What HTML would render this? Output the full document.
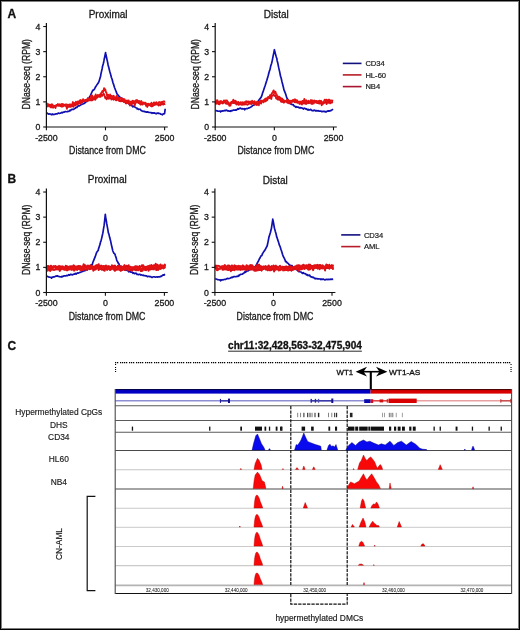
<!DOCTYPE html>
<html><head><meta charset="utf-8"><style>
html,body{margin:0;padding:0;background:#fff;}
body{width:520px;height:630px;overflow:hidden;}
svg{display:block;font-family:"Liberation Sans", sans-serif;will-change:transform;}


</style></head><body>
<svg width="520" height="630" viewBox="0 0 520 630">
<rect x="0" y="0" width="520" height="630" fill="#fff"/>
<path d="M46.50,112.75 L47.30,113.36 L48.10,113.70 L48.90,114.15 L49.00,114.01 L49.70,113.93 L50.50,113.99 L51.30,114.76 L52.10,113.99 L52.90,114.64 L53.70,114.31 L54.50,114.42 L55.30,114.05 L56.10,113.87 L56.90,114.02 L57.70,113.44 L58.50,113.08 L59.30,113.47 L60.10,113.24 L60.50,113.24 L60.90,112.96 L61.70,112.44 L62.50,112.80 L63.30,112.19 L64.10,112.18 L64.90,111.65 L65.70,111.61 L66.50,111.75 L67.30,111.64 L68.10,111.29 L68.90,111.45 L69.40,110.98 L69.70,110.29 L70.50,110.67 L71.30,109.57 L72.10,109.36 L72.90,109.37 L73.70,109.30 L73.80,109.25 L74.50,108.54 L75.30,108.16 L76.10,107.15 L76.90,107.63 L77.70,106.34 L78.30,105.96 L78.50,105.85 L79.30,105.87 L80.10,105.25 L80.90,104.89 L81.70,104.38 L82.50,104.03 L83.30,103.83 L84.10,103.41 L84.60,103.23 L84.90,102.69 L85.70,102.25 L86.50,101.18 L87.30,100.59 L88.10,99.39 L88.90,98.37 L89.70,96.69 L90.50,95.38 L91.30,93.52 L92.10,91.64 L92.20,91.49 L92.90,90.18 L93.70,90.10 L94.50,89.07 L95.30,87.22 L95.60,86.93 L96.10,86.14 L96.90,84.85 L97.70,83.83 L98.50,82.46 L98.90,81.78 L99.30,80.54 L100.10,77.86 L100.60,76.25 L100.90,74.19 L101.70,70.56 L102.20,68.46 L102.50,66.42 L103.30,63.70 L103.90,60.95 L104.10,59.70 L104.90,55.99 L105.60,52.51 L105.70,53.46 L106.50,57.29 L107.20,60.66 L107.30,60.63 L108.10,64.98 L108.90,68.07 L109.70,71.31 L110.50,73.89 L111.10,76.19 L111.30,77.27 L112.10,79.21 L112.90,82.43 L113.30,83.62 L113.70,84.84 L114.50,87.48 L115.30,89.50 L115.60,90.26 L116.10,91.39 L116.90,93.73 L117.70,94.76 L117.80,94.81 L118.50,95.92 L119.30,96.25 L120.00,97.40 L120.10,97.70 L120.90,97.96 L121.70,98.35 L122.50,98.30 L123.30,99.74 L124.10,99.95 L124.90,100.79 L125.60,101.38 L125.70,100.67 L126.50,101.76 L127.30,102.03 L128.10,103.25 L128.90,103.65 L129.70,104.65 L130.50,104.93 L130.70,105.09 L131.30,105.28 L132.10,105.93 L132.90,106.83 L133.70,106.17 L134.50,106.73 L135.30,107.49 L136.10,107.78 L136.90,108.02 L137.00,108.90 L137.70,108.56 L138.50,109.47 L139.30,109.22 L140.10,109.13 L140.90,110.29 L141.70,110.87 L142.50,111.00 L143.30,111.51 L144.10,111.24 L144.60,111.31 L144.90,111.88 L145.70,111.72 L146.50,112.16 L147.30,111.92 L148.10,112.13 L148.90,112.45 L149.70,112.48 L150.50,112.62 L151.30,112.59 L152.10,113.26 L152.30,112.90 L152.90,112.80 L153.70,113.12 L154.50,112.85 L155.30,113.36 L156.10,113.77 L156.90,113.39 L157.70,113.19 L158.50,113.21 L158.60,113.52 L159.30,113.46 L160.10,113.64 L160.90,114.23 L161.70,114.23 L162.40,114.73 L162.50,114.55 L163.30,113.90 L164.10,113.86 L164.60,113.48 L164.90,111.03 L165.20,108.76" fill="none" stroke="#1010b0" stroke-width="1.7" stroke-linejoin="round"/>
<path d="M46.50,104.26 L47.10,105.79 L47.70,106.48 L48.30,105.36 L48.90,104.83 L49.50,106.07 L50.10,106.69 L50.70,107.39 L51.30,105.58 L51.60,105.60 L51.90,107.24 L52.50,106.93 L53.10,107.71 L53.70,107.12 L54.30,106.08 L54.90,105.82 L55.50,108.12 L56.10,105.57 L56.70,105.03 L57.30,104.73 L57.90,105.78 L58.50,105.82 L59.10,105.41 L59.70,105.65 L60.30,105.93 L60.90,106.29 L61.50,106.63 L62.10,105.88 L62.70,104.18 L63.00,106.30 L63.30,104.52 L63.90,105.65 L64.50,104.60 L65.10,105.92 L65.70,105.32 L66.30,106.22 L66.90,108.91 L67.50,106.13 L68.10,106.95 L68.70,105.17 L69.30,106.11 L69.90,106.98 L70.50,106.40 L70.70,106.81 L71.10,106.41 L71.70,105.20 L72.30,106.28 L72.90,104.84 L73.50,106.86 L74.10,104.57 L74.70,105.32 L75.30,104.48 L75.70,105.11 L75.90,103.70 L76.50,104.81 L77.10,103.61 L77.70,104.54 L78.30,103.74 L78.90,103.08 L79.50,102.05 L80.00,103.15 L80.10,102.87 L80.70,103.67 L81.30,101.75 L81.90,102.35 L82.50,102.11 L83.10,101.72 L83.70,101.46 L84.30,101.24 L84.90,100.38 L85.50,99.83 L86.10,100.16 L86.70,100.80 L87.30,101.42 L87.90,100.80 L88.50,100.70 L89.10,100.31 L89.70,100.08 L90.30,99.47 L90.90,99.81 L91.10,100.61 L91.50,98.70 L92.10,98.21 L92.70,100.28 L93.30,98.64 L93.90,99.08 L94.40,98.84 L94.50,97.10 L95.10,99.92 L95.70,99.15 L96.30,97.58 L96.90,97.86 L97.50,97.11 L97.80,96.15 L98.10,96.61 L98.70,96.63 L99.30,96.86 L99.90,96.12 L100.50,95.18 L101.00,95.95 L101.10,94.16 L101.70,95.52 L102.30,95.82 L102.90,94.66 L103.50,93.43 L104.10,94.21 L104.40,95.20 L104.70,96.06 L105.30,98.16 L105.90,97.22 L106.50,99.30 L107.10,98.81 L107.70,97.09 L108.00,94.69 L108.30,97.45 L108.90,98.85 L109.50,97.85 L110.00,96.32 L110.10,96.78 L110.70,97.50 L111.30,99.61 L111.90,98.20 L112.50,97.95 L113.10,99.36 L113.30,98.03 L113.70,99.84 L114.30,97.91 L114.90,98.32 L115.50,99.58 L116.10,100.41 L116.70,99.99 L117.30,99.93 L117.90,98.36 L118.50,99.54 L118.90,99.78 L119.10,99.89 L119.70,100.97 L120.30,100.32 L120.90,101.41 L121.50,100.94 L122.10,100.72 L122.70,101.23 L123.30,101.62 L123.90,102.12 L124.40,101.09 L124.50,101.34 L125.10,100.62 L125.70,103.37 L126.30,103.48 L126.90,102.33 L127.50,102.31 L128.10,101.90 L128.70,103.33 L129.30,103.60 L129.90,105.52 L130.00,103.91 L130.50,102.92 L131.10,101.37 L131.70,104.51 L132.30,103.34 L132.90,101.67 L133.50,103.05 L134.10,101.40 L134.70,105.58 L135.30,103.44 L135.90,102.84 L136.50,102.07 L137.00,100.28 L137.10,102.02 L137.70,101.00 L138.30,103.02 L138.90,100.89 L139.50,102.13 L140.10,104.13 L140.70,104.68 L141.30,102.47 L141.90,102.36 L142.00,104.45 L142.50,104.57 L143.10,103.17 L143.70,103.59 L144.30,103.76 L144.90,103.50 L145.50,104.11 L146.10,105.92 L146.70,105.61 L147.30,106.94 L147.90,105.29 L148.40,105.38 L148.50,104.66 L149.10,105.33 L149.70,104.26 L150.30,103.81 L150.90,105.86 L151.50,106.43 L152.10,105.86 L152.70,106.23 L153.30,105.26 L153.90,104.37 L154.50,105.00 L154.80,104.58 L155.10,103.92 L155.70,103.36 L156.30,103.46 L156.90,104.65 L157.50,104.71 L158.10,104.11 L158.70,105.66 L159.30,104.52 L159.90,104.80 L160.50,105.20 L161.10,103.33 L161.70,102.22 L162.30,104.40 L162.90,103.04 L163.50,104.60 L164.10,103.64 L164.70,104.07 L165.20,103.75" fill="none" stroke="#d81018" stroke-width="1.8" stroke-linejoin="round"/>
<path d="M46.50,102.77 L47.10,104.36 L47.70,104.09 L48.30,104.09 L48.90,105.48 L49.50,104.88 L50.10,104.75 L50.70,106.69 L51.30,104.90 L51.60,104.33 L51.90,104.17 L52.50,104.78 L53.10,105.67 L53.70,105.71 L54.30,105.84 L54.90,106.33 L55.50,106.10 L56.10,105.09 L56.70,105.56 L57.30,104.99 L57.90,103.95 L58.50,105.14 L59.10,104.49 L59.70,104.26 L60.30,106.15 L60.90,105.10 L61.50,104.03 L62.10,104.38 L62.70,106.45 L63.00,104.23 L63.30,105.11 L63.90,105.07 L64.50,105.04 L65.10,105.17 L65.70,104.31 L66.30,104.39 L66.90,104.71 L67.50,104.61 L68.10,105.67 L68.70,106.37 L69.30,104.34 L69.90,105.64 L70.50,104.38 L70.70,104.65 L71.10,104.87 L71.70,104.90 L72.30,104.17 L72.90,102.03 L73.50,105.21 L74.10,103.52 L74.70,102.94 L75.30,103.81 L75.70,102.53 L75.90,101.73 L76.50,103.13 L77.10,102.82 L77.70,101.50 L78.30,102.68 L78.90,102.03 L79.50,100.48 L80.00,102.76 L80.10,101.45 L80.70,100.04 L81.30,101.21 L81.90,100.73 L82.50,101.26 L83.10,99.07 L83.70,100.93 L84.30,100.65 L84.90,100.24 L85.50,99.97 L86.10,100.38 L86.70,99.67 L87.30,98.99 L87.90,98.00 L88.50,99.51 L89.10,99.24 L89.70,98.48 L90.30,98.20 L90.90,98.52 L91.10,95.68 L91.50,98.00 L92.10,95.39 L92.70,97.57 L93.30,98.09 L93.90,98.63 L94.40,96.44 L94.50,97.18 L95.10,96.54 L95.70,94.47 L96.30,96.80 L96.90,95.95 L97.50,95.81 L97.80,94.83 L98.10,95.41 L98.70,95.12 L99.30,95.76 L99.90,94.52 L100.50,96.88 L101.00,93.19 L101.10,93.17 L101.70,92.51 L102.30,91.01 L102.90,92.16 L103.50,90.57 L104.10,88.07 L104.40,88.83 L104.70,90.35 L105.30,89.36 L105.90,91.94 L106.50,92.84 L107.10,96.01 L107.70,95.32 L108.00,95.09 L108.30,95.02 L108.90,97.25 L109.50,95.34 L110.00,97.81 L110.10,94.52 L110.70,95.89 L111.30,96.03 L111.90,95.81 L112.50,96.42 L113.10,97.38 L113.30,96.27 L113.70,95.76 L114.30,98.39 L114.90,98.73 L115.50,97.11 L116.10,98.20 L116.70,95.96 L117.30,99.31 L117.90,97.50 L118.50,98.41 L118.90,100.90 L119.10,98.00 L119.70,99.23 L120.30,98.42 L120.90,97.88 L121.50,98.60 L122.10,99.97 L122.70,98.74 L123.30,99.49 L123.90,100.76 L124.40,100.10 L124.50,99.15 L125.10,101.80 L125.70,100.85 L126.30,102.20 L126.90,100.32 L127.50,102.91 L128.10,100.53 L128.70,100.43 L129.30,101.80 L129.90,102.08 L130.00,102.67 L130.50,101.84 L131.10,102.73 L131.70,103.20 L132.30,101.35 L132.90,100.59 L133.50,101.29 L134.10,102.21 L134.70,102.07 L135.30,100.93 L135.90,100.24 L136.50,100.94 L137.00,101.67 L137.10,100.26 L137.70,102.18 L138.30,101.45 L138.90,101.70 L139.50,101.10 L140.10,103.00 L140.70,102.06 L141.30,100.93 L141.90,103.11 L142.00,102.08 L142.50,103.51 L143.10,102.89 L143.70,102.38 L144.30,103.23 L144.90,102.83 L145.50,102.71 L146.10,103.61 L146.70,104.48 L147.30,103.99 L147.90,104.02 L148.40,103.76 L148.50,104.72 L149.10,104.41 L149.70,104.94 L150.30,104.37 L150.90,105.84 L151.50,102.59 L152.10,103.84 L152.70,104.29 L153.30,104.55 L153.90,102.40 L154.50,102.61 L154.80,103.60 L155.10,104.51 L155.70,104.48 L156.30,102.15 L156.90,103.50 L157.50,104.33 L158.10,103.27 L158.70,102.29 L159.30,102.49 L159.90,101.89 L160.50,103.93 L161.10,102.54 L161.70,102.26 L162.30,101.74 L162.90,102.24 L163.50,101.44 L164.10,101.24 L164.70,101.91 L165.20,101.64" fill="none" stroke="#e41212" stroke-width="1.8" stroke-linejoin="round"/>
<path d="M46.4,23.0 V127.0 H167.8" fill="none" stroke="#111" stroke-width="1.2"/>
<path d="M43.199999999999996,127.00 H46.4" stroke="#111" stroke-width="1.1"/>
<text x="40.4" y="130.10" font-size="8.7" font-weight="normal" text-anchor="end" fill="#1a1a1a" stroke="#1a1a1a" stroke-width="0.3" >0</text>
<path d="M43.199999999999996,101.88 H46.4" stroke="#111" stroke-width="1.1"/>
<text x="40.4" y="104.98" font-size="8.7" font-weight="normal" text-anchor="end" fill="#1a1a1a" stroke="#1a1a1a" stroke-width="0.3" >1</text>
<path d="M43.199999999999996,76.76 H46.4" stroke="#111" stroke-width="1.1"/>
<text x="40.4" y="79.86" font-size="8.7" font-weight="normal" text-anchor="end" fill="#1a1a1a" stroke="#1a1a1a" stroke-width="0.3" >2</text>
<path d="M43.199999999999996,51.64 H46.4" stroke="#111" stroke-width="1.1"/>
<text x="40.4" y="54.74" font-size="8.7" font-weight="normal" text-anchor="end" fill="#1a1a1a" stroke="#1a1a1a" stroke-width="0.3" >3</text>
<path d="M43.199999999999996,26.52 H46.4" stroke="#111" stroke-width="1.1"/>
<text x="40.4" y="29.62" font-size="8.7" font-weight="normal" text-anchor="end" fill="#1a1a1a" stroke="#1a1a1a" stroke-width="0.3" >4</text>
<path d="M46.40,127.0 V130.3" stroke="#111" stroke-width="1.1"/>
<text x="46.40" y="140.8" font-size="8.8" font-weight="normal" text-anchor="middle" fill="#1a1a1a" stroke="#1a1a1a" stroke-width="0.3" >-2500</text>
<path d="M105.50,127.0 V130.3" stroke="#111" stroke-width="1.1"/>
<text x="105.50" y="140.8" font-size="8.8" font-weight="normal" text-anchor="middle" fill="#1a1a1a" stroke="#1a1a1a" stroke-width="0.3" >0</text>
<path d="M164.60,127.0 V130.3" stroke="#111" stroke-width="1.1"/>
<text x="164.60" y="140.8" font-size="8.8" font-weight="normal" text-anchor="middle" fill="#1a1a1a" stroke="#1a1a1a" stroke-width="0.3" >2500</text>
<text x="69.1" y="154.4" font-size="10.4" font-weight="normal" text-anchor="start" fill="#1a1a1a" stroke="#1a1a1a" stroke-width="0.3" textLength="76.8" lengthAdjust="spacingAndGlyphs" >Distance from DMC</text>
<text x="0" y="0" font-size="10" fill="#1a1a1a" stroke="#1a1a1a" stroke-width="0.3" textLength="70.4" lengthAdjust="spacingAndGlyphs" transform="translate(29.9,109.4) rotate(-90)">DNase-seq (RPM)</text>
<text x="88.7" y="17.8" font-size="10" font-weight="normal" text-anchor="start" fill="#1a1a1a" stroke="#1a1a1a" stroke-width="0.3" >Proximal</text>
<path d="M215.50,110.25 L216.30,110.71 L217.10,110.90 L217.90,111.20 L218.70,111.23 L219.50,111.21 L220.30,111.31 L220.60,111.99 L221.10,110.93 L221.90,111.21 L222.70,110.87 L223.50,110.98 L224.30,110.61 L225.10,110.43 L225.70,110.62 L225.90,110.27 L226.70,110.19 L227.50,110.89 L228.30,110.94 L229.10,111.14 L229.90,111.04 L230.70,110.78 L230.80,111.32 L231.50,110.72 L232.30,110.70 L233.10,110.15 L233.90,110.09 L234.70,110.21 L235.50,110.08 L235.90,109.81 L236.30,110.04 L237.10,109.47 L237.90,108.70 L238.70,109.21 L239.50,108.26 L240.30,108.18 L240.90,108.38 L241.10,108.68 L241.90,108.80 L242.70,108.71 L243.50,109.01 L244.30,108.67 L244.70,109.77 L245.10,108.91 L245.90,108.72 L246.70,108.47 L247.50,108.62 L248.30,108.13 L249.10,107.90 L249.90,107.52 L250.00,107.49 L250.70,107.15 L251.50,106.51 L252.30,105.98 L253.10,105.22 L253.90,105.11 L254.70,104.38 L255.50,104.13 L256.30,103.27 L256.70,102.87 L257.10,102.32 L257.90,101.70 L258.70,100.51 L259.50,99.31 L260.30,98.43 L260.60,97.70 L261.10,97.41 L261.90,95.41 L262.70,92.59 L263.00,91.93 L263.50,90.40 L264.30,87.93 L265.10,85.72 L265.90,83.16 L266.40,81.58 L266.70,80.66 L267.50,77.95 L268.30,75.32 L269.10,72.05 L269.90,69.65 L270.00,69.66 L270.70,66.09 L271.50,63.69 L272.30,60.35 L273.10,56.16 L273.90,52.33 L274.40,49.71 L274.70,51.29 L275.50,54.12 L276.30,57.00 L276.90,58.78 L277.10,60.43 L277.90,63.58 L278.70,67.67 L279.50,71.10 L280.30,74.97 L280.50,76.26 L281.10,77.80 L281.90,81.43 L282.70,84.45 L283.50,87.74 L284.00,90.08 L284.30,90.56 L285.10,92.56 L285.90,94.78 L286.70,97.63 L287.50,99.16 L288.30,100.07 L289.10,101.49 L289.90,102.01 L290.70,103.47 L291.10,104.23 L291.50,104.24 L292.30,104.60 L293.10,104.52 L293.90,105.94 L294.70,106.13 L295.50,106.95 L295.80,107.28 L296.30,106.60 L297.10,107.19 L297.90,106.96 L298.70,107.69 L299.50,107.59 L300.00,108.01 L300.30,107.68 L301.10,107.85 L301.90,107.93 L302.70,108.36 L303.50,109.05 L304.30,108.17 L305.10,108.51 L305.90,109.05 L306.30,109.04 L306.70,108.94 L307.50,109.91 L308.30,109.41 L309.10,110.13 L309.90,109.68 L310.70,109.39 L311.50,110.35 L312.30,110.74 L312.60,110.59 L313.10,110.80 L313.90,110.27 L314.70,110.21 L315.50,110.81 L316.30,110.60 L317.10,110.99 L317.90,110.70 L318.70,110.86 L319.00,111.08 L319.50,111.04 L320.30,111.14 L321.10,111.08 L321.90,111.71 L322.70,111.41 L323.50,111.33 L324.30,111.65 L325.10,111.38 L325.30,111.83 L325.90,112.06 L326.70,111.49 L327.50,111.08 L328.30,110.91 L329.10,111.10 L329.90,110.75 L330.40,110.65 L330.70,110.80 L331.50,110.01 L332.30,109.74 L333.00,109.12" fill="none" stroke="#1010b0" stroke-width="1.7" stroke-linejoin="round"/>
<path d="M215.50,102.23 L216.10,103.84 L216.70,102.14 L217.30,101.54 L217.90,103.55 L218.50,104.13 L219.10,104.18 L219.30,104.38 L219.70,103.70 L220.30,103.07 L220.90,102.71 L221.50,102.95 L222.10,102.59 L222.70,103.48 L223.30,102.99 L223.90,101.16 L224.50,102.61 L225.10,101.76 L225.70,103.12 L226.30,103.83 L226.90,103.41 L227.50,101.79 L228.10,104.26 L228.70,102.74 L229.30,105.81 L229.50,104.03 L229.90,104.20 L230.50,105.58 L231.10,102.15 L231.70,103.34 L232.30,102.05 L232.90,102.18 L233.30,101.71 L233.50,103.04 L234.10,102.39 L234.70,103.13 L235.30,103.57 L235.90,101.74 L236.50,104.60 L237.10,103.38 L237.70,102.35 L238.30,103.40 L238.40,104.75 L238.90,104.86 L239.50,103.40 L240.10,104.08 L240.70,104.20 L241.30,104.89 L241.90,103.88 L242.50,104.84 L243.10,103.23 L243.50,103.37 L243.70,104.56 L244.30,104.57 L244.90,103.87 L245.50,104.40 L246.10,104.02 L246.70,104.47 L247.30,104.77 L247.90,104.18 L248.50,104.40 L249.10,103.31 L249.70,103.13 L250.00,101.56 L250.30,103.95 L250.90,103.63 L251.50,104.06 L252.10,101.98 L252.70,103.18 L253.30,103.12 L253.90,102.04 L254.50,104.39 L255.10,104.66 L255.70,102.50 L256.30,103.98 L256.90,105.09 L257.50,102.55 L258.10,104.46 L258.70,104.98 L258.90,105.22 L259.30,102.23 L259.90,102.20 L260.50,103.02 L261.10,103.59 L261.70,101.17 L262.30,101.32 L262.90,100.72 L263.50,102.36 L264.10,100.63 L264.70,101.33 L265.30,101.10 L265.60,101.41 L265.90,100.53 L266.50,100.00 L267.10,100.25 L267.70,99.19 L268.30,97.21 L268.90,97.38 L269.50,98.17 L270.00,97.12 L270.10,96.62 L270.70,96.73 L271.30,98.99 L271.90,95.64 L272.50,95.69 L273.10,95.25 L273.70,94.20 L273.90,95.34 L274.30,95.60 L274.90,96.03 L275.50,95.34 L276.10,98.44 L276.70,98.84 L277.30,98.94 L277.80,97.35 L277.90,99.68 L278.50,98.86 L279.10,99.90 L279.70,99.84 L280.30,99.75 L280.90,101.54 L281.50,100.94 L282.10,102.11 L282.70,100.37 L283.30,101.23 L283.90,102.72 L284.50,101.94 L285.10,101.15 L285.70,101.14 L286.30,101.52 L286.90,102.10 L287.50,102.90 L288.10,102.55 L288.70,103.21 L288.90,103.33 L289.30,102.63 L289.90,103.54 L290.50,102.95 L291.10,102.04 L291.70,101.95 L292.30,101.96 L292.90,101.23 L293.50,100.59 L294.10,101.69 L294.40,101.15 L294.70,102.21 L295.30,101.37 L295.90,102.17 L296.50,102.45 L297.10,102.05 L297.70,102.83 L298.30,102.22 L298.90,102.67 L299.50,103.94 L300.00,103.74 L300.10,103.37 L300.70,102.52 L301.30,103.65 L301.90,104.62 L302.50,100.82 L303.10,103.47 L303.70,102.58 L304.30,103.40 L304.90,103.51 L305.50,101.65 L306.10,104.10 L306.70,102.11 L307.30,102.46 L307.90,103.27 L308.50,102.69 L309.10,103.05 L309.70,102.41 L310.10,101.99 L310.30,102.89 L310.90,101.88 L311.50,103.95 L312.10,102.95 L312.70,103.91 L313.30,101.55 L313.90,100.78 L314.50,100.55 L315.10,102.16 L315.70,101.32 L316.30,102.71 L316.40,101.12 L316.90,101.28 L317.50,102.84 L318.10,102.37 L318.70,103.41 L319.30,103.64 L319.90,103.36 L320.50,102.10 L321.10,102.52 L321.70,105.36 L322.30,103.30 L322.80,103.85 L322.90,103.68 L323.50,103.40 L324.10,103.14 L324.70,102.65 L325.30,102.55 L325.90,101.10 L326.50,104.18 L327.10,102.48 L327.70,101.29 L327.90,102.84 L328.30,102.92 L328.90,100.99 L329.50,101.72 L330.10,103.39 L330.70,102.48 L331.30,102.30 L331.90,102.71 L332.50,101.65 L333.00,101.43" fill="none" stroke="#d81018" stroke-width="1.8" stroke-linejoin="round"/>
<path d="M215.50,102.04 L216.10,102.08 L216.70,100.34 L217.30,100.11 L217.90,101.92 L218.50,102.91 L219.10,102.39 L219.30,101.36 L219.70,102.03 L220.30,103.44 L220.90,100.82 L221.50,102.66 L222.10,101.98 L222.70,101.72 L223.30,101.73 L223.90,100.39 L224.50,100.53 L225.10,101.93 L225.70,100.45 L226.30,100.81 L226.90,100.35 L227.50,101.53 L228.10,102.94 L228.70,103.75 L229.30,103.62 L229.50,103.74 L229.90,103.47 L230.50,102.91 L231.10,103.13 L231.70,101.81 L232.30,102.49 L232.90,101.18 L233.30,99.65 L233.50,99.98 L234.10,101.09 L234.70,101.06 L235.30,100.61 L235.90,101.18 L236.50,102.16 L237.10,102.54 L237.70,103.10 L238.30,101.85 L238.40,102.92 L238.90,103.48 L239.50,102.90 L240.10,104.09 L240.70,102.20 L241.30,102.60 L241.90,102.75 L242.50,102.27 L243.10,102.56 L243.50,102.80 L243.70,102.56 L244.30,102.13 L244.90,102.14 L245.50,102.42 L246.10,101.16 L246.70,102.56 L247.30,101.45 L247.90,102.13 L248.50,101.39 L249.10,102.34 L249.70,101.91 L250.00,101.99 L250.30,101.58 L250.90,102.30 L251.50,103.53 L252.10,100.70 L252.70,102.63 L253.30,102.39 L253.90,101.88 L254.50,101.14 L255.10,103.52 L255.70,102.36 L256.30,103.04 L256.90,101.89 L257.50,101.57 L258.10,103.10 L258.70,102.82 L258.90,101.95 L259.30,101.83 L259.90,102.24 L260.50,100.77 L261.10,100.46 L261.70,100.83 L262.30,101.42 L262.90,101.01 L263.50,100.16 L264.10,100.84 L264.70,99.31 L265.30,98.74 L265.60,100.95 L265.90,98.36 L266.50,98.81 L267.10,98.31 L267.70,97.48 L268.30,97.11 L268.90,97.03 L269.50,96.45 L270.00,95.12 L270.10,95.50 L270.70,95.97 L271.30,94.75 L271.90,93.11 L272.50,92.84 L273.10,91.29 L273.70,90.36 L273.90,90.77 L274.30,93.09 L274.90,92.08 L275.50,91.79 L276.10,94.16 L276.70,94.52 L277.30,96.53 L277.80,97.63 L277.90,96.40 L278.50,97.14 L279.10,96.67 L279.70,98.78 L280.30,97.55 L280.90,98.55 L281.50,100.87 L282.10,98.50 L282.70,99.78 L283.30,99.97 L283.90,100.52 L284.50,100.66 L285.10,101.63 L285.70,100.93 L286.30,101.15 L286.90,99.76 L287.50,101.25 L288.10,99.94 L288.70,102.17 L288.90,101.17 L289.30,101.94 L289.90,100.62 L290.50,101.11 L291.10,100.88 L291.70,101.16 L292.30,100.51 L292.90,100.00 L293.50,100.07 L294.10,99.73 L294.40,99.45 L294.70,99.31 L295.30,99.29 L295.90,102.26 L296.50,100.28 L297.10,100.16 L297.70,102.09 L298.30,101.70 L298.90,101.55 L299.50,102.79 L300.00,103.55 L300.10,101.28 L300.70,103.00 L301.30,102.14 L301.90,102.46 L302.50,100.90 L303.10,102.56 L303.70,101.97 L304.30,98.91 L304.90,102.16 L305.50,102.27 L306.10,100.05 L306.70,101.52 L307.30,101.15 L307.90,101.53 L308.50,100.68 L309.10,101.97 L309.70,102.09 L310.10,101.43 L310.30,101.44 L310.90,100.02 L311.50,101.85 L312.10,100.30 L312.70,101.32 L313.30,100.60 L313.90,103.37 L314.50,101.17 L315.10,102.39 L315.70,101.04 L316.30,100.99 L316.40,101.62 L316.90,101.08 L317.50,103.15 L318.10,101.18 L318.70,102.79 L319.30,100.57 L319.90,100.92 L320.50,102.32 L321.10,100.75 L321.70,103.64 L322.30,102.56 L322.80,102.28 L322.90,103.66 L323.50,101.62 L324.10,101.29 L324.70,99.61 L325.30,100.02 L325.90,101.23 L326.50,99.62 L327.10,101.83 L327.70,101.87 L327.90,101.39 L328.30,99.61 L328.90,100.16 L329.50,99.65 L330.10,101.30 L330.70,101.48 L331.30,100.36 L331.90,100.52 L332.50,100.57 L333.00,100.92" fill="none" stroke="#e41212" stroke-width="1.8" stroke-linejoin="round"/>
<path d="M215.2,23.0 V127.0 H336.79999999999995" fill="none" stroke="#111" stroke-width="1.2"/>
<path d="M212.0,127.00 H215.2" stroke="#111" stroke-width="1.1"/>
<text x="209.2" y="130.10" font-size="8.7" font-weight="normal" text-anchor="end" fill="#1a1a1a" stroke="#1a1a1a" stroke-width="0.3" >0</text>
<path d="M212.0,101.88 H215.2" stroke="#111" stroke-width="1.1"/>
<text x="209.2" y="104.98" font-size="8.7" font-weight="normal" text-anchor="end" fill="#1a1a1a" stroke="#1a1a1a" stroke-width="0.3" >1</text>
<path d="M212.0,76.76 H215.2" stroke="#111" stroke-width="1.1"/>
<text x="209.2" y="79.86" font-size="8.7" font-weight="normal" text-anchor="end" fill="#1a1a1a" stroke="#1a1a1a" stroke-width="0.3" >2</text>
<path d="M212.0,51.64 H215.2" stroke="#111" stroke-width="1.1"/>
<text x="209.2" y="54.74" font-size="8.7" font-weight="normal" text-anchor="end" fill="#1a1a1a" stroke="#1a1a1a" stroke-width="0.3" >3</text>
<path d="M212.0,26.52 H215.2" stroke="#111" stroke-width="1.1"/>
<text x="209.2" y="29.62" font-size="8.7" font-weight="normal" text-anchor="end" fill="#1a1a1a" stroke="#1a1a1a" stroke-width="0.3" >4</text>
<path d="M215.20,127.0 V130.3" stroke="#111" stroke-width="1.1"/>
<text x="215.20" y="140.8" font-size="8.8" font-weight="normal" text-anchor="middle" fill="#1a1a1a" stroke="#1a1a1a" stroke-width="0.3" >-2500</text>
<path d="M274.35,127.0 V130.3" stroke="#111" stroke-width="1.1"/>
<text x="274.35" y="140.8" font-size="8.8" font-weight="normal" text-anchor="middle" fill="#1a1a1a" stroke="#1a1a1a" stroke-width="0.3" >0</text>
<path d="M333.50,127.0 V130.3" stroke="#111" stroke-width="1.1"/>
<text x="333.50" y="140.8" font-size="8.8" font-weight="normal" text-anchor="middle" fill="#1a1a1a" stroke="#1a1a1a" stroke-width="0.3" >2500</text>
<text x="237.5" y="154.4" font-size="10.4" font-weight="normal" text-anchor="start" fill="#1a1a1a" stroke="#1a1a1a" stroke-width="0.3" textLength="76.8" lengthAdjust="spacingAndGlyphs" >Distance from DMC</text>
<text x="0" y="0" font-size="10" fill="#1a1a1a" stroke="#1a1a1a" stroke-width="0.3" textLength="70.4" lengthAdjust="spacingAndGlyphs" transform="translate(198.7,109.4) rotate(-90)">DNase-seq (RPM)</text>
<text x="263.8" y="17.9" font-size="10" font-weight="normal" text-anchor="start" fill="#1a1a1a" stroke="#1a1a1a" stroke-width="0.3" >Distal</text>
<path d="M46.50,275.85 L47.30,276.40 L48.10,276.69 L48.90,277.08 L49.70,277.21 L50.50,277.28 L51.30,277.47 L51.60,278.19 L52.10,277.07 L52.90,277.26 L53.70,276.83 L54.50,276.84 L55.30,276.37 L56.10,276.10 L56.70,276.22 L56.90,275.87 L57.70,275.81 L58.50,276.52 L59.30,276.59 L60.10,276.80 L60.90,276.73 L61.70,276.48 L61.80,277.02 L62.50,276.41 L63.30,276.37 L64.10,275.80 L64.90,275.73 L65.70,275.83 L66.50,275.69 L66.90,275.41 L67.30,275.70 L68.10,275.23 L68.90,274.58 L69.70,275.21 L70.50,274.36 L71.30,274.40 L71.90,274.68 L72.10,274.89 L72.90,274.63 L73.70,274.16 L74.50,274.08 L75.30,273.37 L76.10,274.15 L76.90,273.16 L77.00,273.16 L77.70,272.95 L78.50,273.12 L79.30,272.64 L80.10,272.43 L80.80,272.10 L80.90,272.05 L81.70,271.85 L82.50,271.43 L83.30,271.11 L84.10,270.56 L84.60,270.80 L84.90,270.48 L85.70,270.33 L86.50,269.58 L87.30,269.00 L88.10,268.46 L88.40,268.58 L88.90,267.81 L89.70,266.71 L90.50,265.93 L91.30,264.73 L92.10,264.88 L92.20,264.81 L92.90,262.27 L93.70,260.38 L94.40,258.68 L94.50,258.43 L95.30,256.41 L96.10,254.04 L96.70,252.28 L96.90,252.08 L97.70,250.94 L98.30,250.15 L98.50,248.88 L99.30,246.43 L100.10,244.06 L100.60,241.68 L100.90,241.37 L101.70,238.10 L102.50,234.56 L102.80,233.40 L103.30,230.03 L104.10,225.40 L104.20,224.59 L104.90,218.35 L105.30,214.38 L105.70,217.54 L106.50,221.85 L106.70,223.47 L107.30,226.55 L108.10,231.18 L108.30,232.66 L108.90,234.09 L109.70,237.57 L110.50,240.44 L110.60,240.87 L111.30,244.37 L112.10,247.69 L112.80,250.76 L112.90,251.04 L113.70,252.98 L114.50,253.61 L115.00,254.21 L115.30,255.54 L116.10,257.63 L116.70,260.00 L116.90,260.63 L117.70,262.00 L118.50,263.49 L118.90,263.73 L119.30,265.22 L120.10,266.01 L120.60,267.03 L120.90,267.37 L121.70,267.09 L122.50,268.00 L123.30,268.09 L124.10,269.14 L124.90,269.36 L125.60,270.11 L125.70,269.75 L126.50,270.10 L127.30,270.34 L128.10,270.94 L128.90,271.80 L129.70,271.09 L130.50,271.61 L130.70,272.05 L131.30,272.12 L132.10,272.20 L132.90,273.26 L133.70,272.87 L134.50,273.69 L135.30,273.34 L136.10,273.15 L136.90,274.21 L137.00,274.49 L137.70,274.43 L138.50,274.76 L139.30,274.31 L140.10,274.34 L140.90,275.03 L141.70,274.90 L142.50,275.38 L143.30,275.18 L143.40,275.29 L144.10,275.62 L144.90,275.70 L145.70,275.87 L146.50,275.88 L147.30,276.59 L148.10,276.37 L148.90,276.37 L149.70,276.77 L150.50,276.48 L151.30,276.98 L152.10,277.37 L152.90,276.98 L153.70,276.76 L154.50,276.77 L155.30,277.15 L156.10,276.98 L156.90,276.82 L157.70,277.07 L158.50,276.74 L159.30,276.93 L159.90,276.72 L160.10,276.47 L160.90,276.55 L161.70,276.08 L162.50,275.33 L163.30,274.76 L163.70,275.06 L164.10,275.07 L164.90,274.44 L165.20,274.37" fill="none" stroke="#1010b0" stroke-width="1.7" stroke-linejoin="round"/>
<path d="M46.50,267.12 L47.10,267.56 L47.70,265.90 L48.30,265.83 L48.90,266.82 L49.50,267.90 L50.10,266.86 L50.70,265.63 L51.30,265.94 L51.90,266.51 L52.50,267.31 L53.10,266.55 L53.70,266.28 L54.30,266.39 L54.90,266.71 L55.50,265.99 L56.10,266.58 L56.70,266.79 L57.30,267.87 L57.90,266.55 L58.50,267.35 L59.10,265.79 L59.70,267.28 L60.30,266.73 L60.90,266.19 L61.50,266.60 L62.10,267.33 L62.70,266.37 L63.30,267.43 L63.90,267.82 L64.50,267.91 L65.10,267.91 L65.70,265.64 L66.30,266.91 L66.90,266.11 L67.50,267.39 L68.10,266.71 L68.70,266.84 L69.30,267.03 L69.90,266.20 L70.50,266.75 L71.10,266.11 L71.70,268.31 L72.30,266.32 L72.90,266.70 L73.50,265.30 L74.10,265.53 L74.70,266.04 L75.30,267.33 L75.90,267.31 L76.50,266.93 L77.10,266.21 L77.70,268.17 L78.30,265.91 L78.90,266.05 L79.50,267.11 L80.00,265.95 L80.10,266.93 L80.70,267.47 L81.30,266.64 L81.90,266.99 L82.50,266.68 L83.10,266.11 L83.70,264.13 L84.30,265.64 L84.90,266.58 L85.50,265.27 L86.10,266.10 L86.70,266.69 L87.30,267.56 L87.90,265.42 L88.50,266.06 L89.10,266.63 L89.70,266.85 L90.30,265.33 L90.90,267.87 L91.50,265.74 L92.10,267.22 L92.70,266.19 L93.30,266.65 L93.90,267.63 L94.50,266.85 L95.10,266.38 L95.70,265.46 L96.30,265.72 L96.90,265.10 L97.50,267.80 L98.10,264.96 L98.70,264.13 L99.30,267.45 L99.90,267.14 L100.00,265.84 L100.50,266.81 L101.10,265.52 L101.70,265.74 L102.30,266.62 L102.90,266.56 L103.50,265.91 L104.10,267.58 L104.70,266.90 L105.30,266.45 L105.90,265.43 L106.50,266.50 L107.10,266.16 L107.70,266.37 L108.30,267.09 L108.90,266.03 L109.50,266.72 L110.10,267.16 L110.70,266.84 L111.30,268.40 L111.90,265.22 L112.50,266.58 L113.10,265.71 L113.70,266.62 L114.30,268.69 L114.90,265.42 L115.50,266.51 L116.10,267.29 L116.70,266.87 L117.30,267.54 L117.90,265.60 L118.50,267.64 L119.10,266.13 L119.70,265.94 L120.00,267.37 L120.30,267.30 L120.90,266.34 L121.50,266.27 L122.10,266.76 L122.70,266.91 L123.30,266.79 L123.90,266.12 L124.50,265.08 L125.10,267.96 L125.70,267.06 L126.30,265.93 L126.90,265.67 L127.50,266.37 L128.10,266.59 L128.70,265.23 L129.30,268.03 L129.90,267.26 L130.50,266.66 L131.10,267.19 L131.70,267.10 L132.30,267.76 L132.90,267.04 L133.50,267.92 L134.10,268.14 L134.70,266.67 L135.30,266.56 L135.90,266.21 L136.50,266.73 L137.10,266.34 L137.70,266.92 L138.30,267.16 L138.90,267.34 L139.50,265.99 L140.00,267.77 L140.10,266.66 L140.70,266.77 L141.30,266.40 L141.90,265.17 L142.50,266.91 L143.10,265.25 L143.70,267.50 L144.30,266.60 L144.90,267.76 L145.50,266.99 L146.10,266.98 L146.70,267.49 L147.30,266.29 L147.90,267.50 L148.50,266.13 L149.10,266.39 L149.70,265.60 L150.00,266.54 L150.30,266.63 L150.90,265.66 L151.50,265.00 L152.10,265.95 L152.70,266.28 L153.30,265.79 L153.90,265.10 L154.50,265.26 L155.10,265.59 L155.70,263.68 L156.30,265.26 L156.90,266.84 L157.50,264.64 L158.10,265.45 L158.70,266.93 L159.30,266.11 L159.90,266.25 L160.00,265.39 L160.50,264.43 L161.10,267.76 L161.70,265.68 L162.30,265.61 L162.90,266.70 L163.50,266.02 L164.10,265.40 L164.70,264.45 L165.20,265.18" fill="none" stroke="#d81018" stroke-width="1.9" stroke-linejoin="round"/>
<path d="M46.50,267.79 L47.10,270.38 L47.70,269.41 L48.30,268.65 L48.90,269.90 L49.50,268.30 L50.10,271.03 L50.70,269.65 L51.30,269.10 L51.90,269.82 L52.50,268.19 L53.10,269.63 L53.70,270.01 L54.30,270.01 L54.90,269.62 L55.50,268.32 L56.10,269.47 L56.70,268.08 L57.30,269.39 L57.90,268.72 L58.50,268.60 L59.10,269.87 L59.70,270.89 L60.30,270.49 L60.90,268.95 L61.50,268.92 L62.10,268.47 L62.70,268.79 L63.30,269.38 L63.90,269.64 L64.50,268.91 L65.10,269.29 L65.70,268.33 L66.30,268.85 L66.90,270.36 L67.50,270.39 L68.10,269.70 L68.70,269.36 L69.30,269.47 L69.90,268.72 L70.50,268.33 L71.10,269.72 L71.70,268.39 L72.30,269.62 L72.90,268.34 L73.50,269.23 L74.10,270.64 L74.70,269.79 L75.30,269.22 L75.90,269.52 L76.50,268.05 L77.10,270.08 L77.70,268.68 L78.30,268.65 L78.90,268.74 L79.50,269.37 L80.00,268.75 L80.10,268.79 L80.70,269.67 L81.30,269.43 L81.90,270.26 L82.50,269.89 L83.10,270.20 L83.70,268.28 L84.30,269.26 L84.90,269.60 L85.50,269.87 L86.10,268.88 L86.70,269.62 L87.30,269.98 L87.90,268.33 L88.50,268.37 L89.10,268.38 L89.70,269.21 L90.30,268.11 L90.90,269.00 L91.50,268.59 L92.10,268.14 L92.70,267.49 L93.30,270.75 L93.90,269.91 L94.50,269.73 L95.10,267.59 L95.70,269.55 L96.30,268.54 L96.90,267.79 L97.50,268.33 L98.10,268.39 L98.70,270.06 L99.30,268.85 L99.90,268.68 L100.00,269.09 L100.50,269.12 L101.10,267.75 L101.70,269.72 L102.30,268.99 L102.90,269.64 L103.50,270.21 L104.10,268.61 L104.70,270.77 L105.30,268.67 L105.90,268.73 L106.50,267.21 L107.10,270.11 L107.70,268.87 L108.30,268.59 L108.90,268.62 L109.50,269.55 L110.10,270.00 L110.70,269.72 L111.30,268.96 L111.90,268.65 L112.50,267.69 L113.10,268.72 L113.70,269.63 L114.30,268.97 L114.90,270.87 L115.50,270.12 L116.10,269.12 L116.70,269.80 L117.30,269.58 L117.90,268.82 L118.50,269.20 L119.10,268.26 L119.70,269.25 L120.00,270.36 L120.30,269.14 L120.90,270.91 L121.50,269.36 L122.10,270.13 L122.70,269.90 L123.30,269.00 L123.90,268.61 L124.50,269.87 L125.10,270.16 L125.70,269.51 L126.30,269.41 L126.90,267.25 L127.50,269.00 L128.10,270.26 L128.70,270.37 L129.30,269.82 L129.90,268.90 L130.50,270.23 L131.10,269.29 L131.70,270.16 L132.30,270.69 L132.90,268.78 L133.50,269.31 L134.10,269.73 L134.70,269.84 L135.30,269.62 L135.90,270.22 L136.50,270.27 L137.10,269.08 L137.70,269.44 L138.30,270.36 L138.90,268.67 L139.50,269.07 L140.00,267.85 L140.10,268.82 L140.70,271.03 L141.30,271.13 L141.90,269.09 L142.50,270.80 L143.10,269.70 L143.70,269.58 L144.30,269.12 L144.90,270.08 L145.50,267.96 L146.10,270.24 L146.70,269.22 L147.30,268.99 L147.90,267.54 L148.50,270.80 L149.10,269.52 L149.70,269.02 L150.00,268.85 L150.30,269.55 L150.90,268.35 L151.50,268.96 L152.10,269.30 L152.70,268.09 L153.30,268.06 L153.90,269.50 L154.50,267.82 L155.10,267.82 L155.70,268.86 L156.30,270.07 L156.90,269.84 L157.50,267.59 L158.10,269.97 L158.70,267.22 L159.30,267.90 L159.90,268.53 L160.00,268.94 L160.50,268.79 L161.10,268.56 L161.70,266.65 L162.30,266.82 L162.90,268.08 L163.50,268.46 L164.10,268.04 L164.70,267.50 L165.20,268.21" fill="none" stroke="#d81018" stroke-width="1.9" stroke-linejoin="round"/>
<path d="M46.50,268.22 L47.10,267.69 L47.70,270.68 L48.30,268.24 L48.90,267.98 L49.50,268.19 L50.10,267.39 L50.70,267.23 L51.30,268.28 L51.90,267.46 L52.50,268.52 L53.10,267.66 L53.70,266.35 L54.30,266.75 L54.90,267.13 L55.50,266.19 L56.10,267.79 L56.70,267.62 L57.30,268.65 L57.90,267.14 L58.50,267.68 L59.10,268.36 L59.70,268.50 L60.30,267.03 L60.90,269.16 L61.50,267.37 L62.10,268.90 L62.70,267.65 L63.30,267.55 L63.90,266.86 L64.50,267.80 L65.10,269.91 L65.70,267.38 L66.30,269.21 L66.90,269.04 L67.50,267.60 L68.10,268.87 L68.70,269.10 L69.30,267.68 L69.90,267.50 L70.50,268.88 L71.10,268.25 L71.70,269.73 L72.30,268.32 L72.90,266.99 L73.50,267.92 L74.10,266.97 L74.70,268.60 L75.30,268.57 L75.90,267.63 L76.50,267.24 L77.10,268.74 L77.70,267.67 L78.30,269.02 L78.90,267.17 L79.50,267.77 L80.00,267.55 L80.10,267.13 L80.70,270.27 L81.30,269.37 L81.90,267.42 L82.50,268.59 L83.10,266.40 L83.70,268.95 L84.30,268.79 L84.90,267.57 L85.50,267.54 L86.10,268.03 L86.70,268.19 L87.30,267.48 L87.90,267.05 L88.50,267.53 L89.10,267.37 L89.70,268.37 L90.30,267.77 L90.90,267.88 L91.50,266.26 L92.10,267.32 L92.70,267.30 L93.30,267.17 L93.90,267.49 L94.50,267.32 L95.10,266.28 L95.70,268.33 L96.30,268.29 L96.90,267.07 L97.50,268.01 L98.10,266.68 L98.70,266.39 L99.30,267.26 L99.90,268.72 L100.00,267.33 L100.50,266.15 L101.10,267.66 L101.70,267.00 L102.30,266.91 L102.90,267.83 L103.50,266.09 L104.10,266.08 L104.70,266.38 L105.30,268.55 L105.90,267.74 L106.50,267.18 L107.10,267.14 L107.70,268.29 L108.30,268.81 L108.90,267.18 L109.50,268.03 L110.10,269.82 L110.70,268.37 L111.30,267.61 L111.90,268.20 L112.50,268.03 L113.10,268.52 L113.70,268.28 L114.30,267.60 L114.90,267.94 L115.50,268.38 L116.10,267.51 L116.70,268.17 L117.30,267.37 L117.90,269.20 L118.50,269.49 L119.10,267.48 L119.70,268.94 L120.00,268.39 L120.30,268.32 L120.90,268.03 L121.50,268.47 L122.10,269.09 L122.70,267.21 L123.30,269.10 L123.90,268.02 L124.50,267.32 L125.10,268.20 L125.70,268.78 L126.30,268.17 L126.90,268.49 L127.50,267.96 L128.10,267.80 L128.70,269.09 L129.30,267.46 L129.90,269.08 L130.50,268.53 L131.10,268.01 L131.70,268.06 L132.30,268.00 L132.90,268.22 L133.50,268.21 L134.10,268.13 L134.70,266.63 L135.30,266.48 L135.90,268.53 L136.50,267.72 L137.10,267.77 L137.70,268.11 L138.30,267.32 L138.90,269.54 L139.50,268.24 L140.00,268.10 L140.10,267.36 L140.70,268.93 L141.30,268.75 L141.90,269.33 L142.50,268.79 L143.10,267.32 L143.70,266.90 L144.30,269.04 L144.90,267.29 L145.50,267.72 L146.10,267.63 L146.70,268.13 L147.30,268.12 L147.90,266.76 L148.50,267.03 L149.10,266.08 L149.70,267.94 L150.00,267.31 L150.30,266.03 L150.90,268.26 L151.50,267.37 L152.10,266.49 L152.70,266.94 L153.30,266.76 L153.90,267.30 L154.50,267.35 L155.10,266.67 L155.70,267.46 L156.30,264.92 L156.90,266.75 L157.50,267.54 L158.10,267.75 L158.70,267.59 L159.30,266.03 L159.90,265.46 L160.00,266.57 L160.50,268.71 L161.10,267.02 L161.70,266.17 L162.30,265.38 L162.90,266.85 L163.50,266.34 L164.10,267.10 L164.70,266.82 L165.20,264.71" fill="none" stroke="#e41212" stroke-width="1.9" stroke-linejoin="round"/>
<path d="M46.4,188.5 V292.5 H167.8" fill="none" stroke="#111" stroke-width="1.2"/>
<path d="M43.199999999999996,292.50 H46.4" stroke="#111" stroke-width="1.1"/>
<text x="40.4" y="295.60" font-size="8.7" font-weight="normal" text-anchor="end" fill="#1a1a1a" stroke="#1a1a1a" stroke-width="0.3" >0</text>
<path d="M43.199999999999996,267.38 H46.4" stroke="#111" stroke-width="1.1"/>
<text x="40.4" y="270.48" font-size="8.7" font-weight="normal" text-anchor="end" fill="#1a1a1a" stroke="#1a1a1a" stroke-width="0.3" >1</text>
<path d="M43.199999999999996,242.26 H46.4" stroke="#111" stroke-width="1.1"/>
<text x="40.4" y="245.36" font-size="8.7" font-weight="normal" text-anchor="end" fill="#1a1a1a" stroke="#1a1a1a" stroke-width="0.3" >2</text>
<path d="M43.199999999999996,217.14 H46.4" stroke="#111" stroke-width="1.1"/>
<text x="40.4" y="220.24" font-size="8.7" font-weight="normal" text-anchor="end" fill="#1a1a1a" stroke="#1a1a1a" stroke-width="0.3" >3</text>
<path d="M43.199999999999996,192.02 H46.4" stroke="#111" stroke-width="1.1"/>
<text x="40.4" y="195.12" font-size="8.7" font-weight="normal" text-anchor="end" fill="#1a1a1a" stroke="#1a1a1a" stroke-width="0.3" >4</text>
<path d="M46.40,292.5 V295.8" stroke="#111" stroke-width="1.1"/>
<text x="46.40" y="306.3" font-size="8.8" font-weight="normal" text-anchor="middle" fill="#1a1a1a" stroke="#1a1a1a" stroke-width="0.3" >-2500</text>
<path d="M105.40,292.5 V295.8" stroke="#111" stroke-width="1.1"/>
<text x="105.40" y="306.3" font-size="8.8" font-weight="normal" text-anchor="middle" fill="#1a1a1a" stroke="#1a1a1a" stroke-width="0.3" >0</text>
<path d="M164.40,292.5 V295.8" stroke="#111" stroke-width="1.1"/>
<text x="164.40" y="306.3" font-size="8.8" font-weight="normal" text-anchor="middle" fill="#1a1a1a" stroke="#1a1a1a" stroke-width="0.3" >2500</text>
<text x="68.7" y="319.9" font-size="10.4" font-weight="normal" text-anchor="start" fill="#1a1a1a" stroke="#1a1a1a" stroke-width="0.3" textLength="76.8" lengthAdjust="spacingAndGlyphs" >Distance from DMC</text>
<text x="0" y="0" font-size="10" fill="#1a1a1a" stroke="#1a1a1a" stroke-width="0.3" textLength="70.4" lengthAdjust="spacingAndGlyphs" transform="translate(29.9,274.9) rotate(-90)">DNase-seq (RPM)</text>
<text x="87.8" y="183.3" font-size="10" font-weight="normal" text-anchor="start" fill="#1a1a1a" stroke="#1a1a1a" stroke-width="0.3" >Proximal</text>
<path d="M215.30,278.45 L216.10,278.99 L216.90,279.27 L217.70,279.65 L218.50,279.76 L219.30,279.82 L220.10,280.01 L220.60,280.79 L220.90,279.78 L221.70,280.06 L222.50,279.72 L223.30,279.83 L224.10,279.46 L224.90,279.28 L225.70,279.42 L226.50,278.80 L227.30,278.39 L228.10,278.75 L228.90,278.47 L229.70,278.33 L230.50,277.90 L231.30,277.31 L232.00,277.62 L232.10,277.17 L232.90,277.17 L233.70,276.64 L234.50,276.61 L235.30,276.76 L236.10,276.66 L236.90,276.31 L237.70,276.49 L238.40,275.98 L238.50,275.37 L239.30,275.69 L240.10,274.54 L240.90,274.28 L241.70,274.23 L242.20,274.25 L242.50,274.04 L243.30,273.27 L244.10,272.90 L244.90,271.89 L245.70,272.37 L246.00,271.43 L246.50,271.21 L247.30,270.80 L248.10,270.78 L248.90,270.12 L249.70,269.74 L250.50,269.19 L251.10,268.89 L251.30,268.92 L252.10,268.34 L252.90,267.87 L253.70,267.16 L254.50,267.11 L255.30,266.44 L255.60,266.57 L256.10,265.36 L256.90,263.76 L257.70,262.20 L258.50,261.02 L258.90,260.02 L259.30,259.06 L260.10,257.75 L260.90,256.01 L261.70,255.63 L262.20,254.81 L262.50,253.55 L263.30,252.40 L264.10,251.19 L264.90,249.98 L265.00,250.13 L265.70,248.69 L266.50,247.08 L267.20,245.76 L267.30,245.26 L268.10,241.62 L268.90,237.35 L269.70,234.78 L270.50,232.29 L271.10,229.48 L271.30,229.09 L272.10,223.88 L272.80,219.04 L272.90,219.65 L273.70,223.86 L274.40,228.16 L274.50,228.37 L275.30,231.34 L276.10,233.96 L276.70,237.01 L276.90,237.07 L277.70,239.87 L278.50,242.01 L278.90,243.39 L279.30,244.98 L280.10,246.52 L280.90,249.34 L281.10,249.72 L281.70,251.60 L282.50,254.35 L283.30,256.47 L284.10,257.89 L284.90,259.55 L285.60,261.63 L285.70,261.16 L286.50,261.81 L287.30,262.95 L288.10,263.21 L288.90,264.40 L289.70,265.12 L290.50,265.37 L291.30,265.74 L292.10,265.67 L292.20,266.67 L292.90,266.92 L293.70,267.87 L294.50,268.63 L295.30,268.45 L296.10,269.45 L296.90,269.64 L297.70,270.78 L298.50,271.10 L298.90,271.71 L299.30,271.47 L300.10,271.79 L300.90,272.01 L301.70,272.58 L302.50,273.41 L303.30,272.68 L303.70,273.00 L304.10,273.51 L304.90,273.71 L305.70,273.86 L306.50,274.99 L307.30,274.67 L308.10,275.56 L308.90,275.28 L309.70,275.16 L310.10,276.14 L310.50,276.59 L311.30,276.80 L312.10,277.37 L312.90,277.17 L313.70,277.45 L314.50,278.38 L315.20,278.45 L315.30,278.77 L316.10,278.49 L316.90,278.65 L317.70,278.92 L318.50,278.90 L319.30,278.99 L320.10,278.91 L320.90,279.53 L321.50,279.20 L321.70,279.05 L322.50,279.36 L323.30,279.07 L324.10,279.57 L324.90,279.97 L325.70,279.57 L326.50,279.35 L327.30,279.36 L327.90,279.72 L328.10,279.45 L328.90,279.29 L329.70,279.54 L330.50,279.20 L331.30,279.39 L331.70,279.22 L332.10,279.01 L332.90,279.36 L333.00,279.28" fill="none" stroke="#1010b0" stroke-width="1.7" stroke-linejoin="round"/>
<path d="M215.30,268.04 L215.90,265.42 L216.50,266.57 L217.10,266.11 L217.70,265.62 L218.30,265.88 L218.90,265.93 L219.50,266.27 L220.10,266.66 L220.70,267.17 L221.30,266.53 L221.90,267.24 L222.50,266.72 L223.10,266.44 L223.70,266.19 L224.30,265.59 L224.90,265.11 L225.50,266.31 L226.10,266.25 L226.70,266.64 L227.30,266.66 L227.90,265.40 L228.50,265.84 L229.10,265.53 L229.70,267.21 L230.30,266.33 L230.90,266.53 L231.50,265.72 L232.10,265.44 L232.70,265.99 L233.30,266.37 L233.90,266.83 L234.50,265.27 L235.10,266.73 L235.70,265.80 L236.30,266.07 L236.90,266.23 L237.50,266.16 L238.10,266.87 L238.70,267.21 L239.30,266.79 L239.90,266.10 L240.50,266.86 L241.10,266.84 L241.70,267.23 L242.30,266.77 L242.90,265.29 L243.50,265.97 L244.10,266.26 L244.70,267.31 L245.30,266.48 L245.90,267.32 L246.50,266.83 L247.10,265.67 L247.70,266.65 L248.30,267.06 L248.90,266.95 L249.50,265.47 L250.00,266.98 L250.10,266.18 L250.70,264.99 L251.30,266.21 L251.90,265.11 L252.50,265.66 L253.10,267.81 L253.70,268.62 L254.30,267.52 L254.90,267.03 L255.50,268.20 L256.10,266.97 L256.70,265.94 L257.30,264.78 L257.90,267.44 L258.50,264.95 L259.10,264.48 L259.70,266.22 L260.30,266.80 L260.90,266.07 L261.50,267.58 L262.10,266.70 L262.70,266.94 L263.30,267.13 L263.90,266.32 L264.50,266.96 L265.10,268.64 L265.70,266.06 L266.30,266.94 L266.90,267.23 L267.50,266.40 L268.10,266.79 L268.70,265.48 L269.30,266.50 L269.90,266.88 L270.00,267.74 L270.50,267.61 L271.10,266.42 L271.70,266.00 L272.30,268.36 L272.90,267.62 L273.50,265.41 L274.10,266.67 L274.70,266.23 L275.30,266.48 L275.90,265.61 L276.50,266.65 L277.10,266.59 L277.70,266.82 L278.30,267.85 L278.90,267.22 L279.50,266.08 L280.10,265.68 L280.70,266.65 L281.30,268.00 L281.90,267.85 L282.50,266.64 L283.10,268.05 L283.70,267.48 L284.30,266.67 L284.90,267.51 L285.50,267.11 L286.10,266.30 L286.70,266.85 L287.30,267.34 L287.90,268.28 L288.50,266.41 L289.10,267.44 L289.70,267.28 L290.00,267.23 L290.30,266.25 L290.90,268.15 L291.50,268.10 L292.10,268.26 L292.70,267.27 L293.30,268.00 L293.90,267.16 L294.50,267.44 L295.10,266.29 L295.70,266.66 L296.30,266.13 L296.90,265.46 L297.50,265.88 L298.10,265.24 L298.70,265.16 L299.30,265.66 L299.90,265.41 L300.00,267.54 L300.50,267.29 L301.10,266.72 L301.70,266.48 L302.30,265.14 L302.90,266.04 L303.50,264.65 L304.10,265.29 L304.70,265.40 L305.30,265.48 L305.90,266.45 L306.50,265.12 L307.10,267.68 L307.70,265.32 L308.30,266.40 L308.90,264.43 L309.50,266.42 L310.10,264.69 L310.70,265.83 L311.30,265.65 L311.90,266.31 L312.50,266.12 L313.10,265.94 L313.70,265.49 L314.30,267.17 L314.90,265.22 L315.50,265.58 L316.10,265.18 L316.70,265.66 L317.30,264.76 L317.90,265.19 L318.50,265.92 L319.10,265.04 L319.70,265.86 L320.00,265.01 L320.30,266.62 L320.90,265.36 L321.50,266.88 L322.10,265.85 L322.70,265.34 L323.30,266.20 L323.90,266.36 L324.50,266.64 L325.10,266.53 L325.70,266.12 L326.30,264.45 L326.90,266.13 L327.50,265.30 L328.10,265.69 L328.70,266.37 L329.30,264.76 L329.90,266.41 L330.50,267.25 L331.10,265.76 L331.70,265.05 L332.30,266.40 L332.90,265.43 L333.00,266.13" fill="none" stroke="#d81018" stroke-width="1.9" stroke-linejoin="round"/>
<path d="M215.30,268.89 L215.90,268.37 L216.50,269.22 L217.10,269.96 L217.70,270.23 L218.30,269.42 L218.90,268.96 L219.50,268.72 L220.10,268.57 L220.70,268.10 L221.30,267.66 L221.90,267.48 L222.50,269.80 L223.10,268.92 L223.70,269.78 L224.30,267.84 L224.90,269.20 L225.50,268.98 L226.10,269.55 L226.70,268.82 L227.30,269.78 L227.90,269.83 L228.50,270.11 L229.10,267.36 L229.70,268.08 L230.30,270.20 L230.90,271.14 L231.50,269.49 L232.10,268.82 L232.70,270.07 L233.30,269.28 L233.90,269.28 L234.50,270.20 L235.10,269.18 L235.70,267.77 L236.30,268.59 L236.90,269.65 L237.50,268.48 L238.10,269.47 L238.70,268.73 L239.30,269.62 L239.90,268.77 L240.50,269.92 L241.10,268.91 L241.70,268.33 L242.30,269.63 L242.90,269.51 L243.50,269.34 L244.10,268.02 L244.70,268.89 L245.30,270.03 L245.90,269.48 L246.50,268.31 L247.10,270.28 L247.70,269.62 L248.30,269.26 L248.90,268.93 L249.50,269.19 L250.00,269.70 L250.10,267.43 L250.70,269.02 L251.30,268.30 L251.90,269.67 L252.50,269.42 L253.10,269.35 L253.70,269.67 L254.30,270.69 L254.90,270.86 L255.50,268.35 L256.10,270.78 L256.70,269.46 L257.30,267.99 L257.90,270.44 L258.50,268.74 L259.10,268.87 L259.70,270.13 L260.30,269.24 L260.90,269.54 L261.50,270.41 L262.10,269.70 L262.70,267.30 L263.30,269.13 L263.90,268.37 L264.50,268.43 L265.10,268.41 L265.70,269.61 L266.30,269.55 L266.90,269.28 L267.50,270.32 L268.10,269.58 L268.70,269.27 L269.30,270.31 L269.90,269.95 L270.00,269.69 L270.50,270.40 L271.10,270.16 L271.70,269.69 L272.30,269.58 L272.90,269.20 L273.50,268.81 L274.10,271.46 L274.70,269.86 L275.30,267.73 L275.90,269.73 L276.50,269.03 L277.10,268.83 L277.70,269.36 L278.30,269.89 L278.90,270.52 L279.50,269.51 L280.10,269.55 L280.70,270.13 L281.30,267.84 L281.90,268.44 L282.50,268.57 L283.10,270.60 L283.70,269.48 L284.30,268.87 L284.90,269.06 L285.50,268.74 L286.10,270.04 L286.70,269.73 L287.30,270.21 L287.90,270.33 L288.50,270.46 L289.10,270.15 L289.70,269.38 L290.00,270.12 L290.30,269.76 L290.90,269.77 L291.50,270.78 L292.10,268.95 L292.70,269.96 L293.30,269.77 L293.90,269.38 L294.50,268.83 L295.10,269.16 L295.70,268.88 L296.30,268.15 L296.90,268.10 L297.50,267.47 L298.10,268.40 L298.70,270.84 L299.30,267.74 L299.90,269.38 L300.00,268.80 L300.50,269.48 L301.10,269.36 L301.70,268.60 L302.30,268.92 L302.90,268.57 L303.50,268.48 L304.10,268.38 L304.70,268.93 L305.30,266.93 L305.90,268.16 L306.50,268.24 L307.10,267.66 L307.70,268.29 L308.30,269.72 L308.90,268.14 L309.50,269.45 L310.10,269.33 L310.70,268.09 L311.30,268.02 L311.90,268.31 L312.50,268.11 L313.10,270.19 L313.70,268.48 L314.30,268.31 L314.90,267.65 L315.50,267.78 L316.10,267.70 L316.70,267.83 L317.30,268.27 L317.90,268.74 L318.50,267.86 L319.10,266.92 L319.70,269.34 L320.00,268.32 L320.30,268.17 L320.90,267.19 L321.50,268.19 L322.10,268.14 L322.70,268.42 L323.30,268.00 L323.90,268.32 L324.50,268.03 L325.10,270.51 L325.70,266.40 L326.30,268.13 L326.90,266.11 L327.50,268.10 L328.10,267.69 L328.70,267.14 L329.30,268.75 L329.90,267.43 L330.50,266.68 L331.10,267.79 L331.70,267.54 L332.30,266.38 L332.90,269.08 L333.00,267.58" fill="none" stroke="#d81018" stroke-width="1.9" stroke-linejoin="round"/>
<path d="M215.30,267.24 L215.90,266.12 L216.50,268.79 L217.10,270.22 L217.70,268.04 L218.30,268.75 L218.90,268.77 L219.50,268.38 L220.10,268.38 L220.70,268.68 L221.30,267.45 L221.90,266.33 L222.50,266.19 L223.10,268.27 L223.70,268.09 L224.30,267.67 L224.90,265.71 L225.50,267.50 L226.10,267.67 L226.70,266.87 L227.30,267.07 L227.90,269.61 L228.50,268.92 L229.10,268.45 L229.70,268.03 L230.30,267.38 L230.90,267.46 L231.50,268.39 L232.10,267.06 L232.70,267.60 L233.30,269.24 L233.90,266.69 L234.50,267.14 L235.10,269.38 L235.70,268.16 L236.30,268.00 L236.90,267.12 L237.50,266.62 L238.10,268.91 L238.70,265.62 L239.30,268.28 L239.90,267.40 L240.50,267.81 L241.10,266.08 L241.70,268.68 L242.30,268.43 L242.90,268.17 L243.50,268.29 L244.10,266.75 L244.70,268.09 L245.30,268.36 L245.90,267.88 L246.50,265.20 L247.10,267.87 L247.70,268.07 L248.30,267.00 L248.90,268.04 L249.50,269.12 L250.00,267.92 L250.10,269.15 L250.70,267.53 L251.30,267.37 L251.90,268.24 L252.50,267.24 L253.10,266.55 L253.70,268.33 L254.30,268.04 L254.90,268.56 L255.50,267.29 L256.10,267.68 L256.70,268.49 L257.30,267.64 L257.90,267.89 L258.50,268.28 L259.10,267.43 L259.70,268.31 L260.30,266.81 L260.90,268.54 L261.50,270.46 L262.10,268.68 L262.70,267.78 L263.30,266.71 L263.90,267.12 L264.50,267.89 L265.10,267.47 L265.70,268.59 L266.30,268.29 L266.90,268.84 L267.50,267.98 L268.10,268.88 L268.70,269.38 L269.30,267.40 L269.90,268.10 L270.00,268.08 L270.50,268.13 L271.10,269.22 L271.70,267.94 L272.30,267.47 L272.90,267.09 L273.50,266.98 L274.10,268.20 L274.70,269.07 L275.30,268.35 L275.90,267.62 L276.50,268.19 L277.10,267.55 L277.70,269.24 L278.30,268.47 L278.90,269.65 L279.50,268.97 L280.10,268.95 L280.70,267.60 L281.30,268.87 L281.90,268.11 L282.50,267.98 L283.10,268.63 L283.70,269.90 L284.30,268.94 L284.90,270.27 L285.50,269.11 L286.10,267.36 L286.70,268.10 L287.30,270.21 L287.90,269.09 L288.50,268.67 L289.10,268.22 L289.70,268.77 L290.00,269.00 L290.30,268.23 L290.90,268.47 L291.50,268.67 L292.10,267.41 L292.70,268.05 L293.30,267.55 L293.90,267.56 L294.50,267.25 L295.10,267.40 L295.70,267.14 L296.30,269.26 L296.90,267.53 L297.50,267.91 L298.10,266.83 L298.70,267.55 L299.30,267.73 L299.90,268.63 L300.00,268.74 L300.50,266.87 L301.10,268.76 L301.70,267.29 L302.30,268.26 L302.90,267.15 L303.50,267.82 L304.10,267.10 L304.70,266.01 L305.30,267.65 L305.90,266.89 L306.50,267.03 L307.10,267.34 L307.70,267.55 L308.30,269.22 L308.90,266.19 L309.50,266.66 L310.10,266.27 L310.70,268.12 L311.30,266.80 L311.90,266.53 L312.50,267.42 L313.10,267.08 L313.70,267.46 L314.30,265.73 L314.90,266.99 L315.50,267.47 L316.10,266.45 L316.70,268.00 L317.30,266.85 L317.90,266.25 L318.50,266.55 L319.10,267.34 L319.70,267.76 L320.00,266.46 L320.30,267.35 L320.90,266.57 L321.50,266.08 L322.10,266.00 L322.70,267.45 L323.30,266.43 L323.90,266.94 L324.50,268.19 L325.10,267.63 L325.70,266.43 L326.30,266.54 L326.90,266.99 L327.50,264.97 L328.10,267.30 L328.70,266.12 L329.30,267.34 L329.90,266.11 L330.50,266.41 L331.10,267.38 L331.70,267.23 L332.30,268.20 L332.90,266.27 L333.00,266.15" fill="none" stroke="#e41212" stroke-width="1.9" stroke-linejoin="round"/>
<path d="M214.9,188.5 V292.5 H335.4" fill="none" stroke="#111" stroke-width="1.2"/>
<path d="M211.70000000000002,292.50 H214.9" stroke="#111" stroke-width="1.1"/>
<text x="208.9" y="295.60" font-size="8.7" font-weight="normal" text-anchor="end" fill="#1a1a1a" stroke="#1a1a1a" stroke-width="0.3" >0</text>
<path d="M211.70000000000002,267.38 H214.9" stroke="#111" stroke-width="1.1"/>
<text x="208.9" y="270.48" font-size="8.7" font-weight="normal" text-anchor="end" fill="#1a1a1a" stroke="#1a1a1a" stroke-width="0.3" >1</text>
<path d="M211.70000000000002,242.26 H214.9" stroke="#111" stroke-width="1.1"/>
<text x="208.9" y="245.36" font-size="8.7" font-weight="normal" text-anchor="end" fill="#1a1a1a" stroke="#1a1a1a" stroke-width="0.3" >2</text>
<path d="M211.70000000000002,217.14 H214.9" stroke="#111" stroke-width="1.1"/>
<text x="208.9" y="220.24" font-size="8.7" font-weight="normal" text-anchor="end" fill="#1a1a1a" stroke="#1a1a1a" stroke-width="0.3" >3</text>
<path d="M211.70000000000002,192.02 H214.9" stroke="#111" stroke-width="1.1"/>
<text x="208.9" y="195.12" font-size="8.7" font-weight="normal" text-anchor="end" fill="#1a1a1a" stroke="#1a1a1a" stroke-width="0.3" >4</text>
<path d="M214.90,292.5 V295.8" stroke="#111" stroke-width="1.1"/>
<text x="214.90" y="306.3" font-size="8.8" font-weight="normal" text-anchor="middle" fill="#1a1a1a" stroke="#1a1a1a" stroke-width="0.3" >-2500</text>
<path d="M273.45,292.5 V295.8" stroke="#111" stroke-width="1.1"/>
<text x="273.45" y="306.3" font-size="8.8" font-weight="normal" text-anchor="middle" fill="#1a1a1a" stroke="#1a1a1a" stroke-width="0.3" >0</text>
<path d="M332.00,292.5 V295.8" stroke="#111" stroke-width="1.1"/>
<text x="332.00" y="306.3" font-size="8.8" font-weight="normal" text-anchor="middle" fill="#1a1a1a" stroke="#1a1a1a" stroke-width="0.3" >2500</text>
<text x="236.6" y="319.9" font-size="10.4" font-weight="normal" text-anchor="start" fill="#1a1a1a" stroke="#1a1a1a" stroke-width="0.3" textLength="76.8" lengthAdjust="spacingAndGlyphs" >Distance from DMC</text>
<text x="0" y="0" font-size="10" fill="#1a1a1a" stroke="#1a1a1a" stroke-width="0.3" textLength="70.4" lengthAdjust="spacingAndGlyphs" transform="translate(198.4,274.9) rotate(-90)">DNase-seq (RPM)</text>
<text x="262.7" y="183.5" font-size="10" font-weight="normal" text-anchor="start" fill="#1a1a1a" stroke="#1a1a1a" stroke-width="0.3" >Distal</text>
<text x="7.4" y="17.5" font-size="12" font-weight="bold" text-anchor="start" fill="#111" stroke="#111" stroke-width="0.3" >A</text>
<text x="7.4" y="183.0" font-size="12" font-weight="bold" text-anchor="start" fill="#111" stroke="#111" stroke-width="0.3" >B</text>
<text x="7.6" y="349.5" font-size="12" font-weight="bold" text-anchor="start" fill="#111" stroke="#111" stroke-width="0.3" >C</text>
<path d="M342.8,63.4 H361.5" stroke="#10107e" stroke-width="1.6"/>
<text x="365.4" y="66.2" font-size="7.6" font-weight="normal" text-anchor="start" fill="#1a1a1a" stroke="#1a1a1a" stroke-width="0.2" >CD34</text>
<path d="M342.8,74.9 H361.5" stroke="#b81c2a" stroke-width="1.6"/>
<text x="365.4" y="77.7" font-size="7.6" font-weight="normal" text-anchor="start" fill="#1a1a1a" stroke="#1a1a1a" stroke-width="0.2" >HL-60</text>
<path d="M342.8,86.6 H361.5" stroke="#a8142e" stroke-width="1.6"/>
<text x="365.4" y="89.39999999999999" font-size="7.6" font-weight="normal" text-anchor="start" fill="#1a1a1a" stroke="#1a1a1a" stroke-width="0.2" >NB4</text>
<path d="M341.2,234.9 H360.4" stroke="#10107e" stroke-width="1.6"/>
<text x="363.9" y="237.70000000000002" font-size="7.6" font-weight="normal" text-anchor="start" fill="#1a1a1a" stroke="#1a1a1a" stroke-width="0.2" >CD34</text>
<path d="M341.2,246.6 H360.4" stroke="#b81c2a" stroke-width="1.6"/>
<text x="363.9" y="249.4" font-size="7.6" font-weight="normal" text-anchor="start" fill="#1a1a1a" stroke="#1a1a1a" stroke-width="0.2" >AML</text>
<text x="228.1" y="349.4" font-size="10.05" font-weight="bold" text-anchor="start" fill="#111" stroke="#111" stroke-width="0.3" textLength="133.8" lengthAdjust="spacingAndGlyphs" >chr11:32,428,563-32,475,904</text>
<path d="M228.1,351.2 H361.9" stroke="#111" stroke-width="0.9"/>
<path d="M115,361.9h1.25v1.3h-1.25zM117,361.9h1.25v1.3h-1.25zM120,361.9h1.25v1.3h-1.25zM122,361.9h1.25v1.3h-1.25zM124,361.9h1.25v1.3h-1.25zM126,361.9h1.25v1.3h-1.25zM129,361.9h1.25v1.3h-1.25zM131,361.9h1.25v1.3h-1.25zM133,361.9h1.25v1.3h-1.25zM136,361.9h1.25v1.3h-1.25zM138,361.9h1.25v1.3h-1.25zM140,361.9h1.25v1.3h-1.25zM142,361.9h1.25v1.3h-1.25zM145,361.9h1.25v1.3h-1.25zM147,361.9h1.25v1.3h-1.25zM149,361.9h1.25v1.3h-1.25zM151,361.9h1.25v1.3h-1.25zM154,361.9h1.25v1.3h-1.25zM156,361.9h1.25v1.3h-1.25zM158,361.9h1.25v1.3h-1.25zM161,361.9h1.25v1.3h-1.25zM163,361.9h1.25v1.3h-1.25zM165,361.9h1.25v1.3h-1.25zM167,361.9h1.25v1.3h-1.25zM170,361.9h1.25v1.3h-1.25zM172,361.9h1.25v1.3h-1.25zM174,361.9h1.25v1.3h-1.25zM177,361.9h1.25v1.3h-1.25zM179,361.9h1.25v1.3h-1.25zM181,361.9h1.25v1.3h-1.25zM183,361.9h1.25v1.3h-1.25zM186,361.9h1.25v1.3h-1.25zM188,361.9h1.25v1.3h-1.25zM190,361.9h1.25v1.3h-1.25zM193,361.9h1.25v1.3h-1.25zM195,361.9h1.25v1.3h-1.25zM197,361.9h1.25v1.3h-1.25zM199,361.9h1.25v1.3h-1.25zM202,361.9h1.25v1.3h-1.25zM204,361.9h1.25v1.3h-1.25zM206,361.9h1.25v1.3h-1.25zM208,361.9h1.25v1.3h-1.25zM211,361.9h1.25v1.3h-1.25zM213,361.9h1.25v1.3h-1.25zM215,361.9h1.25v1.3h-1.25zM218,361.9h1.25v1.3h-1.25zM220,361.9h1.25v1.3h-1.25zM222,361.9h1.25v1.3h-1.25zM224,361.9h1.25v1.3h-1.25zM227,361.9h1.25v1.3h-1.25zM229,361.9h1.25v1.3h-1.25zM231,361.9h1.25v1.3h-1.25zM234,361.9h1.25v1.3h-1.25zM236,361.9h1.25v1.3h-1.25zM238,361.9h1.25v1.3h-1.25zM240,361.9h1.25v1.3h-1.25zM243,361.9h1.25v1.3h-1.25zM245,361.9h1.25v1.3h-1.25zM247,361.9h1.25v1.3h-1.25zM250,361.9h1.25v1.3h-1.25zM252,361.9h1.25v1.3h-1.25zM254,361.9h1.25v1.3h-1.25zM256,361.9h1.25v1.3h-1.25zM259,361.9h1.25v1.3h-1.25zM261,361.9h1.25v1.3h-1.25zM263,361.9h1.25v1.3h-1.25zM265,361.9h1.25v1.3h-1.25zM268,361.9h1.25v1.3h-1.25zM270,361.9h1.25v1.3h-1.25zM272,361.9h1.25v1.3h-1.25zM275,361.9h1.25v1.3h-1.25zM277,361.9h1.25v1.3h-1.25zM279,361.9h1.25v1.3h-1.25zM281,361.9h1.25v1.3h-1.25zM284,361.9h1.25v1.3h-1.25zM286,361.9h1.25v1.3h-1.25zM288,361.9h1.25v1.3h-1.25zM291,361.9h1.25v1.3h-1.25zM293,361.9h1.25v1.3h-1.25zM295,361.9h1.25v1.3h-1.25zM297,361.9h1.25v1.3h-1.25zM300,361.9h1.25v1.3h-1.25zM302,361.9h1.25v1.3h-1.25zM304,361.9h1.25v1.3h-1.25zM307,361.9h1.25v1.3h-1.25zM309,361.9h1.25v1.3h-1.25zM311,361.9h1.25v1.3h-1.25zM313,361.9h1.25v1.3h-1.25zM316,361.9h1.25v1.3h-1.25zM318,361.9h1.25v1.3h-1.25zM320,361.9h1.25v1.3h-1.25zM322,361.9h1.25v1.3h-1.25zM325,361.9h1.25v1.3h-1.25zM327,361.9h1.25v1.3h-1.25zM329,361.9h1.25v1.3h-1.25zM332,361.9h1.25v1.3h-1.25zM334,361.9h1.25v1.3h-1.25zM336,361.9h1.25v1.3h-1.25zM338,361.9h1.25v1.3h-1.25zM341,361.9h1.25v1.3h-1.25zM343,361.9h1.25v1.3h-1.25zM345,361.9h1.25v1.3h-1.25zM348,361.9h1.25v1.3h-1.25zM350,361.9h1.25v1.3h-1.25zM352,361.9h1.25v1.3h-1.25zM354,361.9h1.25v1.3h-1.25zM357,361.9h1.25v1.3h-1.25zM359,361.9h1.25v1.3h-1.25zM361,361.9h1.25v1.3h-1.25zM364,361.9h1.25v1.3h-1.25zM366,361.9h1.25v1.3h-1.25zM368,361.9h1.25v1.3h-1.25zM370,361.9h1.25v1.3h-1.25zM373,361.9h1.25v1.3h-1.25zM375,361.9h1.25v1.3h-1.25zM377,361.9h1.25v1.3h-1.25zM379,361.9h1.25v1.3h-1.25zM382,361.9h1.25v1.3h-1.25zM384,361.9h1.25v1.3h-1.25zM386,361.9h1.25v1.3h-1.25zM389,361.9h1.25v1.3h-1.25zM391,361.9h1.25v1.3h-1.25zM393,361.9h1.25v1.3h-1.25zM395,361.9h1.25v1.3h-1.25zM398,361.9h1.25v1.3h-1.25zM400,361.9h1.25v1.3h-1.25zM402,361.9h1.25v1.3h-1.25zM405,361.9h1.25v1.3h-1.25zM407,361.9h1.25v1.3h-1.25zM409,361.9h1.25v1.3h-1.25zM411,361.9h1.25v1.3h-1.25zM414,361.9h1.25v1.3h-1.25zM416,361.9h1.25v1.3h-1.25zM418,361.9h1.25v1.3h-1.25zM421,361.9h1.25v1.3h-1.25zM423,361.9h1.25v1.3h-1.25zM425,361.9h1.25v1.3h-1.25zM427,361.9h1.25v1.3h-1.25zM430,361.9h1.25v1.3h-1.25zM432,361.9h1.25v1.3h-1.25zM434,361.9h1.25v1.3h-1.25zM436,361.9h1.25v1.3h-1.25zM439,361.9h1.25v1.3h-1.25zM441,361.9h1.25v1.3h-1.25zM443,361.9h1.25v1.3h-1.25zM446,361.9h1.25v1.3h-1.25zM448,361.9h1.25v1.3h-1.25zM450,361.9h1.25v1.3h-1.25zM452,361.9h1.25v1.3h-1.25zM455,361.9h1.25v1.3h-1.25zM457,361.9h1.25v1.3h-1.25zM459,361.9h1.25v1.3h-1.25zM462,361.9h1.25v1.3h-1.25zM464,361.9h1.25v1.3h-1.25zM466,361.9h1.25v1.3h-1.25zM468,361.9h1.25v1.3h-1.25zM471,361.9h1.25v1.3h-1.25zM473,361.9h1.25v1.3h-1.25zM475,361.9h1.25v1.3h-1.25zM478,361.9h1.25v1.3h-1.25zM480,361.9h1.25v1.3h-1.25zM482,361.9h1.25v1.3h-1.25zM484,361.9h1.25v1.3h-1.25zM487,361.9h1.25v1.3h-1.25zM489,361.9h1.25v1.3h-1.25zM491,361.9h1.25v1.3h-1.25zM493,361.9h1.25v1.3h-1.25zM496,361.9h1.25v1.3h-1.25zM498,361.9h1.25v1.3h-1.25zM500,361.9h1.25v1.3h-1.25zM503,361.9h1.25v1.3h-1.25zM505,361.9h1.25v1.3h-1.25zM507,361.9h1.25v1.3h-1.25zM509,361.9h1.25v1.3h-1.25zM115,364h1.1v1.1h-1.1zM510.5,364h1.1v1.1h-1.1zM115,367h1.1v1.1h-1.1zM510.5,367h1.1v1.1h-1.1zM115,369h1.1v1.1h-1.1zM510.5,369h1.1v1.1h-1.1zM115,371h1.1v1.1h-1.1zM510.5,371h1.1v1.1h-1.1z" fill="#000"/>
<text x="336.6" y="374.8" font-size="7.9" font-weight="normal" text-anchor="start" fill="#111" stroke="#111" stroke-width="0.3" textLength="16.6" lengthAdjust="spacingAndGlyphs" >WT1</text>
<text x="389" y="374.8" font-size="7.9" font-weight="normal" text-anchor="start" fill="#111" stroke="#111" stroke-width="0.3" textLength="31.4" lengthAdjust="spacingAndGlyphs" >WT1-AS</text>
<path d="M362,371.7 H381" stroke="#000" stroke-width="1.6"/>
<path d="M370.8,371.2 V389" stroke="#000" stroke-width="2.1"/>
<path d="M355.6,371.7 L367,366.8 L363.5,371.7 L367,376.4 Z" fill="#000"/>
<path d="M387.4,371.7 L376,366.8 L379.5,371.7 L376,376.4 Z" fill="#000"/>
<rect x="115.2" y="389.2" width="255.4" height="4.4" fill="#0000c4"/>
<rect x="370.6" y="389.2" width="141" height="4.4" fill="#d80000"/>
<path d="M115.2,389.6 H370.6" stroke="#000040" stroke-width="1"/>
<path d="M370.6,389.6 H511.6" stroke="#400000" stroke-width="1"/>
<path d="M115.2,400.8 H370.6" stroke="#8e8ed4" stroke-width="1.6"/>
<path d="M370.6,400.8 H511.6" stroke="#e8a0a0" stroke-width="1.4"/>
<path d="M220.4,400.8 H229 M311,400.8 H332" stroke="#3a3aa8" stroke-width="1.5"/>
<rect x="310.5" y="398.9" width="1.5" height="3.8" fill="#2a2aa0"/>
<rect x="314.8" y="398.9" width="1.3" height="3.8" fill="#2a2aa0"/>
<rect x="317.9" y="398.9" width="1.3" height="3.8" fill="#5050b0"/>
<rect x="219.9" y="398.9" width="1.1" height="4" fill="#2020a0"/>
<rect x="228" y="398.6" width="2" height="4.4" fill="#101090"/>
<rect x="331.3" y="398.5" width="2" height="4.5" fill="#101090"/>
<rect x="364.2" y="399.2" width="6.4" height="3.8" fill="#0a0ab0"/>
<rect x="370.6" y="399.2" width="2.6" height="3.8" fill="#d01020"/>
<path d="M373,400.8 H388" stroke="#e03030" stroke-width="1.2"/>
<rect x="379.6" y="399.4" width="3.6" height="3" fill="#d01010"/>
<rect x="386.8" y="399" width="0.9" height="3.8" fill="#d01010"/>
<rect x="388.5" y="398.6" width="28.2" height="4.4" fill="#d80000"/>
<rect x="500.3" y="399.2" width="1.1" height="3.4" fill="#c03030"/>
<rect x="510.4" y="398.8" width="1.2" height="4" fill="#a01010"/>
<path d="M500.8,400.8 H511" stroke="#c04040" stroke-width="1.2"/>
<path d="M115.2,405.8 H511.6" stroke="#5a5a5a" stroke-width="1.1"/>
<path d="M115.2,420.5 H511.6" stroke="#5a5a5a" stroke-width="1.1"/>
<path d="M115.2,432.2 H511.6" stroke="#5a5a5a" stroke-width="1.1"/>
<path d="M115.2,450.5 H511.6" stroke="#4a4a4a" stroke-width="1.1"/>
<path d="M115.2,469.8 H511.6" stroke="#c4c4c4" stroke-width="1.1"/>
<path d="M115.2,489.0 H511.6" stroke="#4a4a4a" stroke-width="1.1"/>
<path d="M115.2,508.3 H511.6" stroke="#c8c8c8" stroke-width="1.1"/>
<path d="M115.2,527.4 H511.6" stroke="#d4d4d4" stroke-width="1.1"/>
<path d="M115.2,546.5 H511.6" stroke="#cacaca" stroke-width="1.1"/>
<path d="M115.2,565.6 H511.6" stroke="#cacaca" stroke-width="1.1"/>
<path d="M115.2,585.4 H511.6" stroke="#b4b4b4" stroke-width="1.8"/>
<path d="M115.2,593.5 H511.6" stroke="#111" stroke-width="1.1"/>
<path d="M115.2,389 V594 M511.6,389 V594" stroke="#4a4a4a" stroke-width="1.1"/>
<rect x="297.25" y="412.8" width="0.9" height="4.4" fill="#777"/>
<rect x="300.15" y="412.8" width="0.9" height="4.4" fill="#777"/>
<rect x="303.40" y="412.8" width="1.0" height="4.4" fill="#222"/>
<rect x="307.10" y="412.8" width="1.0" height="4.4" fill="#333"/>
<rect x="308.75" y="412.8" width="0.9" height="4.4" fill="#666"/>
<rect x="310.25" y="412.8" width="0.9" height="4.4" fill="#777"/>
<rect x="311.65" y="412.8" width="0.9" height="4.4" fill="#777"/>
<rect x="314.50" y="412.8" width="1.0" height="4.4" fill="#222"/>
<rect x="317.90" y="412.8" width="1.4" height="4.4" fill="#222"/>
<rect x="328.05" y="412.8" width="0.9" height="4.4" fill="#777"/>
<rect x="331.35" y="412.8" width="0.9" height="4.4" fill="#777"/>
<rect x="334.20" y="412.8" width="1.0" height="4.4" fill="#222"/>
<rect x="336.05" y="412.8" width="1.1" height="4.4" fill="#222"/>
<rect x="349.90" y="412.8" width="2.6" height="4.4" fill="#222"/>
<rect x="382.00" y="412.8" width="0.8" height="4.4" fill="#888"/>
<rect x="384.20" y="412.8" width="0.8" height="4.4" fill="#888"/>
<rect x="388.85" y="412.8" width="0.9" height="4.4" fill="#666"/>
<rect x="390.55" y="412.8" width="0.9" height="4.4" fill="#666"/>
<rect x="392.35" y="412.8" width="0.9" height="4.4" fill="#666"/>
<rect x="395.80" y="412.8" width="0.8" height="4.4" fill="#888"/>
<rect x="401.90" y="412.8" width="0.8" height="4.4" fill="#888"/>
<rect x="131.80" y="426.6" width="1.3" height="4.1" fill="#111"/>
<rect x="209.10" y="426.6" width="1.3" height="4.1" fill="#111"/>
<rect x="240.30" y="426.6" width="1.7" height="4.1" fill="#111"/>
<rect x="255.00" y="426.6" width="7" height="4.1" fill="#111"/>
<rect x="264.50" y="426.6" width="1.7" height="4.1" fill="#111"/>
<rect x="268.90" y="426.6" width="1.3" height="4.1" fill="#111"/>
<rect x="275.70" y="426.6" width="1.8" height="4.1" fill="#111"/>
<rect x="280.00" y="426.6" width="1.8" height="4.1" fill="#111"/>
<rect x="281.20" y="426.6" width="1.3" height="4.1" fill="#111"/>
<rect x="301.60" y="426.6" width="3.5" height="4.1" fill="#111"/>
<rect x="311.10" y="426.6" width="2.6" height="4.1" fill="#111"/>
<rect x="328.40" y="426.6" width="1.8" height="4.1" fill="#111"/>
<rect x="335.00" y="426.6" width="2.1" height="4.1" fill="#111"/>
<rect x="347.90" y="426.6" width="6.5" height="4.1" fill="#111"/>
<rect x="355.20" y="426.6" width="3" height="4.1" fill="#111"/>
<rect x="359.20" y="426.6" width="8.5" height="4.1" fill="#111"/>
<rect x="368.30" y="426.6" width="1.8" height="4.1" fill="#111"/>
<rect x="370.60" y="426.6" width="13.4" height="4.1" fill="#111"/>
<rect x="389.00" y="426.6" width="2.2" height="4.1" fill="#111"/>
<rect x="394.00" y="426.6" width="2.2" height="4.1" fill="#111"/>
<rect x="397.70" y="426.6" width="2.9" height="4.1" fill="#111"/>
<rect x="402.00" y="426.6" width="2.9" height="4.1" fill="#111"/>
<rect x="409.20" y="426.6" width="2.2" height="4.1" fill="#111"/>
<rect x="412.80" y="426.6" width="2.9" height="4.1" fill="#111"/>
<rect x="433.50" y="426.6" width="1.3" height="4.1" fill="#111"/>
<rect x="439.60" y="426.6" width="1.3" height="4.1" fill="#111"/>
<rect x="455.60" y="426.6" width="1.9" height="4.1" fill="#111"/>
<rect x="471.80" y="426.6" width="1.3" height="4.1" fill="#111"/>
<rect x="488.50" y="426.6" width="1.3" height="4.1" fill="#111"/>
<rect x="500.60" y="426.6" width="1.3" height="4.1" fill="#111"/>
<path d="M252.1,450.0 L253.5,443.8 L255.8,435.8 L257.5,434.0 L259.2,438.0 L261.5,443.8 L263.8,447.3 L265.0,450.0 Z" fill="#0a0aee" stroke="#000088" stroke-width="0.45" stroke-linejoin="round"/>
<path d="M268.6,450.0 L269.4,448.6 L270.4,450.0 Z" fill="#0a0aee" stroke="#000088" stroke-width="0.45" stroke-linejoin="round"/>
<path d="M294.6,450.0 L296.2,444.6 L297.5,445.2 L299.2,443.0 L301.0,440.0 L303.8,433.0 L305.5,437.0 L307.7,441.5 L310.0,442.5 L312.0,443.2 L315.4,444.6 L318.0,445.3 L320.8,446.2 L321.3,450.0 Z" fill="#0a0aee" stroke="#000088" stroke-width="0.45" stroke-linejoin="round"/>
<path d="M327.0,450.0 L328.5,445.6 L330.0,444.2 L331.5,446.5 L333.0,445.8 L334.5,447.0 L336.0,444.5 L337.7,450.0 Z" fill="#0a0aee" stroke="#000088" stroke-width="0.45" stroke-linejoin="round"/>
<path d="M345.8,450.0 L348.7,445.4 L351.9,442.5 L355.4,445.4 L359.2,441.9 L363.5,440.0 L366.9,441.9 L369.8,441.2 L373.7,443.1 L378.5,445.0 L381.3,443.8 L385.2,445.0 L390.0,441.2 L393.8,445.4 L397.7,442.5 L401.5,441.2 L406.3,445.0 L411.2,441.5 L416.0,444.4 L419.8,448.3 L422.7,449.2 L426.5,449.6 L426.8,450.0 Z" fill="#0a0aee" stroke="#000088" stroke-width="0.45" stroke-linejoin="round"/>
<path d="M464.3,450.0 L464.8,449.0 L465.3,450.0 Z" fill="#0a0aee" stroke="#000088" stroke-width="0.45" stroke-linejoin="round"/>
<path d="M471.6,450.0 L472.6,446.5 L473.4,446.5 L474.6,450.0 Z" fill="#0a0aee" stroke="#000088" stroke-width="0.45" stroke-linejoin="round"/>
<path d="M254.0,469.4 L255.2,463.4 L257.5,458.3 L259.2,460.6 L261.0,464.6 L262.1,469.4 Z" fill="#f80808" stroke="#b00000" stroke-width="0.45" stroke-linejoin="round"/>
<path d="M240.2,469.4 L240.8,468.4 L241.6,469.4 Z" fill="#f80808" stroke="#b00000" stroke-width="0.45" stroke-linejoin="round"/>
<path d="M282.4,469.4 L282.9,468.6 L283.6,469.4 Z" fill="#f80808" stroke="#b00000" stroke-width="0.45" stroke-linejoin="round"/>
<path d="M295.5,469.4 L297.0,467.6 L298.6,469.4 Z" fill="#f80808" stroke="#b00000" stroke-width="0.45" stroke-linejoin="round"/>
<path d="M302.6,469.4 L303.8,466.0 L305.2,469.4 Z" fill="#f80808" stroke="#b00000" stroke-width="0.45" stroke-linejoin="round"/>
<path d="M312.4,469.4 L313.8,466.8 L315.2,469.4 Z" fill="#f80808" stroke="#b00000" stroke-width="0.45" stroke-linejoin="round"/>
<path d="M353.0,469.4 L353.5,468.6 L354.2,469.4 Z" fill="#f80808" stroke="#b00000" stroke-width="0.45" stroke-linejoin="round"/>
<path d="M357.7,469.4 L359.5,463.0 L361.2,460.8 L363.5,455.0 L365.2,458.5 L366.9,460.5 L368.8,458.2 L370.8,456.9 L372.7,459.2 L374.6,461.7 L376.5,466.5 L377.5,468.3 L379.0,465.8 L380.4,464.6 L381.6,466.3 L382.7,469.4 Z" fill="#f80808" stroke="#b00000" stroke-width="0.45" stroke-linejoin="round"/>
<path d="M438.3,469.4 L440.2,464.7 L442.3,469.4 Z" fill="#f80808" stroke="#b00000" stroke-width="0.45" stroke-linejoin="round"/>
<path d="M253.2,488.5 L254.2,480.0 L255.2,475.0 L257.5,472.1 L259.8,475.0 L262.1,480.7 L264.4,481.9 L265.9,488.5 Z" fill="#f80808" stroke="#b00000" stroke-width="0.45" stroke-linejoin="round"/>
<path d="M282.0,488.5 L282.5,486.2 L283.2,488.5 Z" fill="#f80808" stroke="#b00000" stroke-width="0.45" stroke-linejoin="round"/>
<path d="M347.5,488.5 L348.2,485.8 L350.6,481.9 L352.5,482.8 L354.4,483.8 L356.5,482.5 L359.2,481.0 L361.5,477.0 L363.5,473.8 L365.2,477.5 L366.9,480.0 L369.0,477.0 L371.7,473.8 L374.0,477.5 L376.5,481.9 L378.5,484.5 L380.4,488.5 Z" fill="#f80808" stroke="#b00000" stroke-width="0.45" stroke-linejoin="round"/>
<path d="M389.2,488.5 L390.0,482.9 L391.2,488.5 Z" fill="#f80808" stroke="#b00000" stroke-width="0.45" stroke-linejoin="round"/>
<path d="M472.4,488.5 L473.0,486.8 L473.8,488.5 Z" fill="#f80808" stroke="#b00000" stroke-width="0.45" stroke-linejoin="round"/>
<path d="M254.0,508.0 L254.5,502.2 L255.1,498.3 L255.8,496.1 L256.5,495.2 L256.9,495.1 L257.7,495.5 L258.6,496.9 L259.5,499.0 L260.3,501.6 L261.2,503.7 L261.9,505.4 L262.4,507.0 L262.8,508.0 Z" fill="#f80808" stroke="#b00000" stroke-width="0.45" stroke-linejoin="round"/>
<path d="M254.0,527.0 L254.5,521.3 L255.1,517.5 L255.8,515.4 L256.5,514.5 L256.9,514.4 L257.7,514.8 L258.6,516.2 L259.5,518.2 L260.3,520.7 L261.2,522.8 L261.9,524.5 L262.4,526.0 L262.8,527.0 Z" fill="#f80808" stroke="#b00000" stroke-width="0.45" stroke-linejoin="round"/>
<path d="M254.0,546.1 L254.5,539.9 L255.1,535.8 L255.8,533.4 L256.5,532.4 L256.9,532.3 L257.7,532.7 L258.6,534.2 L259.5,536.4 L260.3,539.2 L261.2,541.5 L261.9,543.3 L262.4,545.0 L262.8,546.1 Z" fill="#f80808" stroke="#b00000" stroke-width="0.45" stroke-linejoin="round"/>
<path d="M254.0,565.2 L254.5,559.3 L255.1,555.4 L255.8,553.1 L256.5,552.2 L256.9,552.1 L257.7,552.5 L258.6,553.9 L259.5,556.0 L260.3,558.7 L261.2,560.9 L261.9,562.6 L262.4,564.2 L262.8,565.2 Z" fill="#f80808" stroke="#b00000" stroke-width="0.45" stroke-linejoin="round"/>
<path d="M254.0,584.6 L254.5,579.3 L255.1,575.8 L255.8,573.8 L256.5,573.0 L256.9,572.9 L257.7,573.3 L258.6,574.5 L259.5,576.4 L260.3,578.8 L261.2,580.7 L261.9,582.3 L262.4,583.7 L262.8,584.6 Z" fill="#f80808" stroke="#b00000" stroke-width="0.45" stroke-linejoin="round"/>
<path d="M303.3,508.0 L305.2,502.5 L307.5,508.0 Z" fill="#f80808" stroke="#b00000" stroke-width="0.45" stroke-linejoin="round"/>
<path d="M360.2,508.0 L361.5,501.0 L362.7,498.8 L364.0,501.0 L365.6,508.0 Z" fill="#f80808" stroke="#b00000" stroke-width="0.45" stroke-linejoin="round"/>
<path d="M370.8,508.0 L372.0,505.5 L373.7,503.8 L375.0,504.6 L376.5,501.9 L378.0,504.0 L379.4,508.0 Z" fill="#f80808" stroke="#b00000" stroke-width="0.45" stroke-linejoin="round"/>
<path d="M239.3,527.0 L239.7,526.0 L240.4,527.0 Z" fill="#f80808" stroke="#b00000" stroke-width="0.45" stroke-linejoin="round"/>
<path d="M351.2,527.0 L352.5,524.4 L354.4,527.0 Z" fill="#f80808" stroke="#b00000" stroke-width="0.45" stroke-linejoin="round"/>
<path d="M359.2,527.0 L361.0,522.0 L363.0,518.1 L364.7,521.5 L366.0,527.0 Z" fill="#f80808" stroke="#b00000" stroke-width="0.45" stroke-linejoin="round"/>
<path d="M369.2,527.0 L371.0,523.5 L372.7,521.2 L374.5,523.5 L376.0,524.5 L377.0,525.6 L378.5,525.4 L379.4,527.0 Z" fill="#f80808" stroke="#b00000" stroke-width="0.45" stroke-linejoin="round"/>
<path d="M397.3,527.0 L399.2,521.5 L401.5,527.0 Z" fill="#f80808" stroke="#b00000" stroke-width="0.45" stroke-linejoin="round"/>
<path d="M358.8,546.1 L360.0,542.5 L361.5,541.3 L363.0,542.5 L364.6,546.1 Z" fill="#f80808" stroke="#b00000" stroke-width="0.45" stroke-linejoin="round"/>
<path d="M374.0,546.1 L374.6,545.3 L375.4,546.1 Z" fill="#f80808" stroke="#b00000" stroke-width="0.45" stroke-linejoin="round"/>
<path d="M420.8,546.1 L422.0,544.0 L423.5,543.8 L425.0,546.1 Z" fill="#f80808" stroke="#b00000" stroke-width="0.45" stroke-linejoin="round"/>
<path d="M358.3,565.2 L359.5,564.2 L361.5,564.0 L363.5,565.2 Z" fill="#f80808" stroke="#b00000" stroke-width="0.45" stroke-linejoin="round"/>
<path d="M373.2,565.2 L373.7,564.8 L374.4,565.2 Z" fill="#f80808" stroke="#b00000" stroke-width="0.45" stroke-linejoin="round"/>
<path d="M363.4,584.6 L364.0,582.5 L364.7,584.6 Z" fill="#f80808" stroke="#b00000" stroke-width="0.45" stroke-linejoin="round"/>
<text x="157.3" y="591.6" font-size="4.6" font-weight="normal" text-anchor="middle" fill="#222" stroke="#222" stroke-width="0.05" >32,430,000</text>
<text x="236.2" y="591.6" font-size="4.6" font-weight="normal" text-anchor="middle" fill="#222" stroke="#222" stroke-width="0.05" >32,440,000</text>
<text x="314.7" y="591.6" font-size="4.6" font-weight="normal" text-anchor="middle" fill="#222" stroke="#222" stroke-width="0.05" >32,450,000</text>
<text x="393.4" y="591.6" font-size="4.6" font-weight="normal" text-anchor="middle" fill="#222" stroke="#222" stroke-width="0.05" >32,460,000</text>
<text x="471.9" y="591.6" font-size="4.6" font-weight="normal" text-anchor="middle" fill="#222" stroke="#222" stroke-width="0.05" >32,470,000</text>
<path d="M290.8,406 V585 M347.2,406 V585" fill="none" stroke="#111" stroke-width="1.2" stroke-dasharray="3.3 1.1"/>
<path d="M290.8,594 V604.2 H347.2 V594" fill="none" stroke="#111" stroke-width="1.2" stroke-dasharray="3.3 1.1"/>
<text x="275.4" y="621.0" font-size="8.4" font-weight="normal" text-anchor="start" fill="#1a1a1a" stroke="#1a1a1a" stroke-width="0.18" textLength="87.8" lengthAdjust="spacingAndGlyphs" >hypermethylated DMCs</text>
<text x="58.8" y="414.9" font-size="8.4" font-weight="normal" text-anchor="middle" fill="#1a1a1a" stroke="#1a1a1a" stroke-width="0.15" >Hypermethylated CpGs</text>
<text x="58.8" y="427.5" font-size="8.4" font-weight="normal" text-anchor="middle" fill="#1a1a1a" stroke="#1a1a1a" stroke-width="0.15" >DHS</text>
<text x="58.8" y="440.4" font-size="8.4" font-weight="normal" text-anchor="middle" fill="#1a1a1a" stroke="#1a1a1a" stroke-width="0.15" >CD34</text>
<text x="58.8" y="461.9" font-size="8.4" font-weight="normal" text-anchor="middle" fill="#1a1a1a" stroke="#1a1a1a" stroke-width="0.15" >HL60</text>
<text x="58.8" y="484.6" font-size="8.4" font-weight="normal" text-anchor="middle" fill="#1a1a1a" stroke="#1a1a1a" stroke-width="0.15" >NB4</text>
<path d="M95.4,496.3 H87.2 V590.7 H95.4" fill="none" stroke="#111" stroke-width="1.2"/>
<text x="0" y="0" font-size="8.6" fill="#111" stroke="#111" stroke-width="0.15" text-anchor="middle" textLength="32" lengthAdjust="spacingAndGlyphs" transform="translate(62.4,544) rotate(-90)">CN-AML</text>
<rect x="0.5" y="0.5" width="519" height="629" fill="none" stroke="#000" stroke-width="1"/>
<rect x="1.5" y="1.5" width="517" height="627" fill="none" stroke="#000" stroke-width="1" opacity="0.5"/>
</svg>
</body></html>
